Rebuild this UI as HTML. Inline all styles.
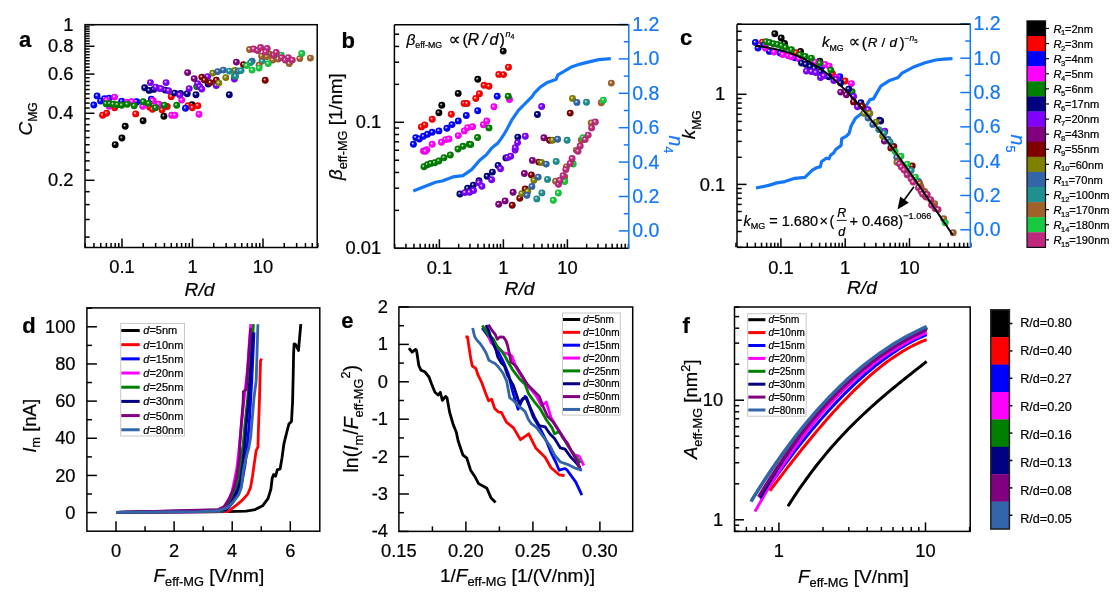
<!DOCTYPE html><html><head><meta charset="utf-8"><title>figure</title><style>html,body{margin:0;padding:0;background:#fff;width:1117px;height:597px;overflow:hidden}text{stroke:currentColor;stroke-width:0.22px}svg{display:block}</style></head><body><svg width="1117" height="597" viewBox="0 0 1117 597" font-family='"Liberation Sans", "DejaVu Sans", Arial, sans-serif'><defs><radialGradient id="g_k" cx="0.5" cy="0.5" r="0.5" fx="0.37" fy="0.35"><stop offset="0" stop-color="#f4f4f4"/><stop offset="0.16" stop-color="#9e9e9e"/><stop offset="0.44" stop-color="#000000"/><stop offset="0.88" stop-color="#000000"/><stop offset="1" stop-color="#000000"/></radialGradient><radialGradient id="g_r" cx="0.5" cy="0.5" r="0.5" fx="0.37" fy="0.35"><stop offset="0" stop-color="#f4f4f4"/><stop offset="0.16" stop-color="#ff9e9e"/><stop offset="0.44" stop-color="#ff0000"/><stop offset="0.88" stop-color="#f20000"/><stop offset="1" stop-color="#cc0000"/></radialGradient><radialGradient id="g_b" cx="0.5" cy="0.5" r="0.5" fx="0.37" fy="0.35"><stop offset="0" stop-color="#f4f4f4"/><stop offset="0.16" stop-color="#9e9eff"/><stop offset="0.44" stop-color="#0000ff"/><stop offset="0.88" stop-color="#0000f2"/><stop offset="1" stop-color="#0000cc"/></radialGradient><radialGradient id="g_m" cx="0.5" cy="0.5" r="0.5" fx="0.37" fy="0.35"><stop offset="0" stop-color="#f4f4f4"/><stop offset="0.16" stop-color="#ff9eff"/><stop offset="0.44" stop-color="#ff00ff"/><stop offset="0.88" stop-color="#f200f2"/><stop offset="1" stop-color="#cc00cc"/></radialGradient><radialGradient id="g_g" cx="0.5" cy="0.5" r="0.5" fx="0.37" fy="0.35"><stop offset="0" stop-color="#f4f4f4"/><stop offset="0.16" stop-color="#9ece9e"/><stop offset="0.44" stop-color="#008000"/><stop offset="0.88" stop-color="#007900"/><stop offset="1" stop-color="#006600"/></radialGradient><radialGradient id="g_n" cx="0.5" cy="0.5" r="0.5" fx="0.37" fy="0.35"><stop offset="0" stop-color="#f4f4f4"/><stop offset="0.16" stop-color="#9e9ece"/><stop offset="0.44" stop-color="#000080"/><stop offset="0.88" stop-color="#000079"/><stop offset="1" stop-color="#000066"/></radialGradient><radialGradient id="g_v" cx="0.5" cy="0.5" r="0.5" fx="0.37" fy="0.35"><stop offset="0" stop-color="#f4f4f4"/><stop offset="0.16" stop-color="#ce9eff"/><stop offset="0.44" stop-color="#8000ff"/><stop offset="0.88" stop-color="#7900f2"/><stop offset="1" stop-color="#6600cc"/></radialGradient><radialGradient id="g_p" cx="0.5" cy="0.5" r="0.5" fx="0.37" fy="0.35"><stop offset="0" stop-color="#f4f4f4"/><stop offset="0.16" stop-color="#ce9ece"/><stop offset="0.44" stop-color="#800080"/><stop offset="0.88" stop-color="#790079"/><stop offset="1" stop-color="#660066"/></radialGradient><radialGradient id="g_w" cx="0.5" cy="0.5" r="0.5" fx="0.37" fy="0.35"><stop offset="0" stop-color="#f4f4f4"/><stop offset="0.16" stop-color="#ce9e9e"/><stop offset="0.44" stop-color="#800000"/><stop offset="0.88" stop-color="#790000"/><stop offset="1" stop-color="#660000"/></radialGradient><radialGradient id="g_o" cx="0.5" cy="0.5" r="0.5" fx="0.37" fy="0.35"><stop offset="0" stop-color="#f4f4f4"/><stop offset="0.16" stop-color="#cece9e"/><stop offset="0.44" stop-color="#808000"/><stop offset="0.88" stop-color="#797900"/><stop offset="1" stop-color="#666600"/></radialGradient><radialGradient id="g_s" cx="0.5" cy="0.5" r="0.5" fx="0.37" fy="0.35"><stop offset="0" stop-color="#f4f4f4"/><stop offset="0.16" stop-color="#b1c4dd"/><stop offset="0.44" stop-color="#3366a8"/><stop offset="0.88" stop-color="#30609f"/><stop offset="1" stop-color="#285186"/></radialGradient><radialGradient id="g_t" cx="0.5" cy="0.5" r="0.5" fx="0.37" fy="0.35"><stop offset="0" stop-color="#f4f4f4"/><stop offset="0.16" stop-color="#a9d4d4"/><stop offset="0.44" stop-color="#1e9090"/><stop offset="0.88" stop-color="#1c8888"/><stop offset="1" stop-color="#187373"/></radialGradient><radialGradient id="g_br" cx="0.5" cy="0.5" r="0.5" fx="0.37" fy="0.35"><stop offset="0" stop-color="#f4f4f4"/><stop offset="0.16" stop-color="#dac3ae"/><stop offset="0.44" stop-color="#a0622a"/><stop offset="0.88" stop-color="#985d27"/><stop offset="1" stop-color="#804e21"/></radialGradient><radialGradient id="g_lg" cx="0.5" cy="0.5" r="0.5" fx="0.37" fy="0.35"><stop offset="0" stop-color="#f4f4f4"/><stop offset="0.16" stop-color="#a7eab6"/><stop offset="0.44" stop-color="#18c840"/><stop offset="0.88" stop-color="#16be3c"/><stop offset="1" stop-color="#13a033"/></radialGradient><radialGradient id="g_pk" cx="0.5" cy="0.5" r="0.5" fx="0.37" fy="0.35"><stop offset="0" stop-color="#f4f4f4"/><stop offset="0.16" stop-color="#e7adcd"/><stop offset="0.44" stop-color="#c0287e"/><stop offset="0.88" stop-color="#b62677"/><stop offset="1" stop-color="#992064"/></radialGradient></defs><line x1="85.14" y1="247.5" x2="85.14" y2="243" stroke="#000" stroke-width="1.5"/>
<line x1="93.95" y1="247.5" x2="93.95" y2="243" stroke="#000" stroke-width="1.5"/>
<line x1="100.78" y1="247.5" x2="100.78" y2="243" stroke="#000" stroke-width="1.5"/>
<line x1="106.36" y1="247.5" x2="106.36" y2="243" stroke="#000" stroke-width="1.5"/>
<line x1="111.08" y1="247.5" x2="111.08" y2="243" stroke="#000" stroke-width="1.5"/>
<line x1="115.17" y1="247.5" x2="115.17" y2="243" stroke="#000" stroke-width="1.5"/>
<line x1="118.77" y1="247.5" x2="118.77" y2="243" stroke="#000" stroke-width="1.5"/>
<line x1="122" y1="247.5" x2="122" y2="238.5" stroke="#000" stroke-width="1.5"/>
<line x1="143.22" y1="247.5" x2="143.22" y2="243" stroke="#000" stroke-width="1.5"/>
<line x1="155.64" y1="247.5" x2="155.64" y2="243" stroke="#000" stroke-width="1.5"/>
<line x1="164.45" y1="247.5" x2="164.45" y2="243" stroke="#000" stroke-width="1.5"/>
<line x1="171.28" y1="247.5" x2="171.28" y2="243" stroke="#000" stroke-width="1.5"/>
<line x1="176.86" y1="247.5" x2="176.86" y2="243" stroke="#000" stroke-width="1.5"/>
<line x1="181.58" y1="247.5" x2="181.58" y2="243" stroke="#000" stroke-width="1.5"/>
<line x1="185.67" y1="247.5" x2="185.67" y2="243" stroke="#000" stroke-width="1.5"/>
<line x1="189.27" y1="247.5" x2="189.27" y2="243" stroke="#000" stroke-width="1.5"/>
<line x1="192.5" y1="247.5" x2="192.5" y2="238.5" stroke="#000" stroke-width="1.5"/>
<line x1="213.72" y1="247.5" x2="213.72" y2="243" stroke="#000" stroke-width="1.5"/>
<line x1="226.14" y1="247.5" x2="226.14" y2="243" stroke="#000" stroke-width="1.5"/>
<line x1="234.95" y1="247.5" x2="234.95" y2="243" stroke="#000" stroke-width="1.5"/>
<line x1="241.78" y1="247.5" x2="241.78" y2="243" stroke="#000" stroke-width="1.5"/>
<line x1="247.36" y1="247.5" x2="247.36" y2="243" stroke="#000" stroke-width="1.5"/>
<line x1="252.08" y1="247.5" x2="252.08" y2="243" stroke="#000" stroke-width="1.5"/>
<line x1="256.17" y1="247.5" x2="256.17" y2="243" stroke="#000" stroke-width="1.5"/>
<line x1="259.77" y1="247.5" x2="259.77" y2="243" stroke="#000" stroke-width="1.5"/>
<line x1="263" y1="247.5" x2="263" y2="238.5" stroke="#000" stroke-width="1.5"/>
<line x1="284.22" y1="247.5" x2="284.22" y2="243" stroke="#000" stroke-width="1.5"/>
<line x1="296.64" y1="247.5" x2="296.64" y2="243" stroke="#000" stroke-width="1.5"/>
<line x1="305.45" y1="247.5" x2="305.45" y2="243" stroke="#000" stroke-width="1.5"/>
<line x1="312.28" y1="247.5" x2="312.28" y2="243" stroke="#000" stroke-width="1.5"/>
<line x1="317.86" y1="247.5" x2="317.86" y2="243" stroke="#000" stroke-width="1.5"/>
<line x1="85" y1="237.11" x2="89.7" y2="237.11" stroke="#000" stroke-width="1.5"/>
<line x1="85" y1="219.49" x2="89.7" y2="219.49" stroke="#000" stroke-width="1.5"/>
<line x1="85" y1="204.59" x2="89.7" y2="204.59" stroke="#000" stroke-width="1.5"/>
<line x1="85" y1="191.68" x2="89.7" y2="191.68" stroke="#000" stroke-width="1.5"/>
<line x1="85" y1="180.29" x2="94.5" y2="180.29" stroke="#000" stroke-width="1.5"/>
<line x1="85" y1="170.11" x2="89.7" y2="170.11" stroke="#000" stroke-width="1.5"/>
<line x1="85" y1="160.89" x2="89.7" y2="160.89" stroke="#000" stroke-width="1.5"/>
<line x1="85" y1="152.48" x2="89.7" y2="152.48" stroke="#000" stroke-width="1.5"/>
<line x1="85" y1="144.74" x2="89.7" y2="144.74" stroke="#000" stroke-width="1.5"/>
<line x1="85" y1="137.58" x2="89.7" y2="137.58" stroke="#000" stroke-width="1.5"/>
<line x1="85" y1="130.91" x2="89.7" y2="130.91" stroke="#000" stroke-width="1.5"/>
<line x1="85" y1="124.67" x2="89.7" y2="124.67" stroke="#000" stroke-width="1.5"/>
<line x1="85" y1="118.81" x2="89.7" y2="118.81" stroke="#000" stroke-width="1.5"/>
<line x1="85" y1="113.28" x2="94.5" y2="113.28" stroke="#000" stroke-width="1.5"/>
<line x1="85" y1="108.05" x2="89.7" y2="108.05" stroke="#000" stroke-width="1.5"/>
<line x1="85" y1="103.1" x2="89.7" y2="103.1" stroke="#000" stroke-width="1.5"/>
<line x1="85" y1="98.38" x2="89.7" y2="98.38" stroke="#000" stroke-width="1.5"/>
<line x1="85" y1="93.88" x2="89.7" y2="93.88" stroke="#000" stroke-width="1.5"/>
<line x1="85" y1="89.58" x2="89.7" y2="89.58" stroke="#000" stroke-width="1.5"/>
<line x1="85" y1="85.47" x2="89.7" y2="85.47" stroke="#000" stroke-width="1.5"/>
<line x1="85" y1="81.52" x2="89.7" y2="81.52" stroke="#000" stroke-width="1.5"/>
<line x1="85" y1="77.73" x2="89.7" y2="77.73" stroke="#000" stroke-width="1.5"/>
<line x1="85" y1="74.08" x2="94.5" y2="74.08" stroke="#000" stroke-width="1.5"/>
<line x1="85" y1="70.57" x2="89.7" y2="70.57" stroke="#000" stroke-width="1.5"/>
<line x1="85" y1="67.18" x2="89.7" y2="67.18" stroke="#000" stroke-width="1.5"/>
<line x1="85" y1="63.9" x2="89.7" y2="63.9" stroke="#000" stroke-width="1.5"/>
<line x1="85" y1="60.73" x2="89.7" y2="60.73" stroke="#000" stroke-width="1.5"/>
<line x1="85" y1="57.66" x2="89.7" y2="57.66" stroke="#000" stroke-width="1.5"/>
<line x1="85" y1="54.68" x2="89.7" y2="54.68" stroke="#000" stroke-width="1.5"/>
<line x1="85" y1="51.8" x2="89.7" y2="51.8" stroke="#000" stroke-width="1.5"/>
<line x1="85" y1="49" x2="89.7" y2="49" stroke="#000" stroke-width="1.5"/>
<line x1="85" y1="46.27" x2="94.5" y2="46.27" stroke="#000" stroke-width="1.5"/>
<line x1="85" y1="43.62" x2="89.7" y2="43.62" stroke="#000" stroke-width="1.5"/>
<line x1="85" y1="41.05" x2="89.7" y2="41.05" stroke="#000" stroke-width="1.5"/>
<line x1="85" y1="38.53" x2="89.7" y2="38.53" stroke="#000" stroke-width="1.5"/>
<line x1="85" y1="36.09" x2="89.7" y2="36.09" stroke="#000" stroke-width="1.5"/>
<line x1="85" y1="33.7" x2="89.7" y2="33.7" stroke="#000" stroke-width="1.5"/>
<line x1="85" y1="31.37" x2="89.7" y2="31.37" stroke="#000" stroke-width="1.5"/>
<line x1="85" y1="29.1" x2="89.7" y2="29.1" stroke="#000" stroke-width="1.5"/>
<line x1="85" y1="26.87" x2="89.7" y2="26.87" stroke="#000" stroke-width="1.5"/>
<line x1="85" y1="24.7" x2="94.5" y2="24.7" stroke="#000" stroke-width="1.5"/>
<rect x="85" y="24.7" width="232.2" height="222.8" fill="none" stroke="#000" stroke-width="1.5"/>
<text x="73.5" y="30.85" font-size="18.3" fill="#000" color="#000" text-anchor="end">1</text>
<text x="73.5" y="52.42" font-size="18.3" fill="#000" color="#000" text-anchor="end">0.8</text>
<text x="73.5" y="80.23" font-size="18.3" fill="#000" color="#000" text-anchor="end">0.6</text>
<text x="73.5" y="119.43" font-size="18.3" fill="#000" color="#000" text-anchor="end">0.4</text>
<text x="73.5" y="186.44" font-size="18.3" fill="#000" color="#000" text-anchor="end">0.2</text>
<text x="122" y="273" font-size="18.3" fill="#000" color="#000" text-anchor="middle">0.1</text>
<text x="192.5" y="273" font-size="18.3" fill="#000" color="#000" text-anchor="middle">1</text>
<text x="263" y="273" font-size="18.3" fill="#000" color="#000" text-anchor="middle">10</text>
<text x="184.6" y="295.9" font-size="19.2" fill="#000" color="#000" font-style="italic">R/d</text>
<text x="32.2" y="135.5" font-size="19" fill="#000" color="#000" font-style="italic" transform="rotate(-90 32.2 135.5)">C<tspan font-size="12.2" font-style="normal" dy="5.2">MG</tspan></text>
<text x="18.9" y="46.8" font-size="22" fill="#000" color="#000" font-weight="bold">a</text>
<line x1="394.67" y1="248.3" x2="394.67" y2="243.8" stroke="#000" stroke-width="1.5"/>
<line x1="405.94" y1="248.3" x2="405.94" y2="243.8" stroke="#000" stroke-width="1.5"/>
<line x1="413.93" y1="248.3" x2="413.93" y2="243.8" stroke="#000" stroke-width="1.5"/>
<line x1="420.13" y1="248.3" x2="420.13" y2="243.8" stroke="#000" stroke-width="1.5"/>
<line x1="425.2" y1="248.3" x2="425.2" y2="243.8" stroke="#000" stroke-width="1.5"/>
<line x1="429.49" y1="248.3" x2="429.49" y2="243.8" stroke="#000" stroke-width="1.5"/>
<line x1="433.2" y1="248.3" x2="433.2" y2="243.8" stroke="#000" stroke-width="1.5"/>
<line x1="436.47" y1="248.3" x2="436.47" y2="243.8" stroke="#000" stroke-width="1.5"/>
<line x1="439.4" y1="248.3" x2="439.4" y2="239.3" stroke="#000" stroke-width="1.5"/>
<line x1="458.67" y1="248.3" x2="458.67" y2="243.8" stroke="#000" stroke-width="1.5"/>
<line x1="469.94" y1="248.3" x2="469.94" y2="243.8" stroke="#000" stroke-width="1.5"/>
<line x1="477.93" y1="248.3" x2="477.93" y2="243.8" stroke="#000" stroke-width="1.5"/>
<line x1="484.13" y1="248.3" x2="484.13" y2="243.8" stroke="#000" stroke-width="1.5"/>
<line x1="489.2" y1="248.3" x2="489.2" y2="243.8" stroke="#000" stroke-width="1.5"/>
<line x1="493.49" y1="248.3" x2="493.49" y2="243.8" stroke="#000" stroke-width="1.5"/>
<line x1="497.2" y1="248.3" x2="497.2" y2="243.8" stroke="#000" stroke-width="1.5"/>
<line x1="500.47" y1="248.3" x2="500.47" y2="243.8" stroke="#000" stroke-width="1.5"/>
<line x1="503.4" y1="248.3" x2="503.4" y2="239.3" stroke="#000" stroke-width="1.5"/>
<line x1="522.67" y1="248.3" x2="522.67" y2="243.8" stroke="#000" stroke-width="1.5"/>
<line x1="533.94" y1="248.3" x2="533.94" y2="243.8" stroke="#000" stroke-width="1.5"/>
<line x1="541.93" y1="248.3" x2="541.93" y2="243.8" stroke="#000" stroke-width="1.5"/>
<line x1="548.13" y1="248.3" x2="548.13" y2="243.8" stroke="#000" stroke-width="1.5"/>
<line x1="553.2" y1="248.3" x2="553.2" y2="243.8" stroke="#000" stroke-width="1.5"/>
<line x1="557.49" y1="248.3" x2="557.49" y2="243.8" stroke="#000" stroke-width="1.5"/>
<line x1="561.2" y1="248.3" x2="561.2" y2="243.8" stroke="#000" stroke-width="1.5"/>
<line x1="564.47" y1="248.3" x2="564.47" y2="243.8" stroke="#000" stroke-width="1.5"/>
<line x1="567.4" y1="248.3" x2="567.4" y2="239.3" stroke="#000" stroke-width="1.5"/>
<line x1="586.67" y1="248.3" x2="586.67" y2="243.8" stroke="#000" stroke-width="1.5"/>
<line x1="597.94" y1="248.3" x2="597.94" y2="243.8" stroke="#000" stroke-width="1.5"/>
<line x1="605.93" y1="248.3" x2="605.93" y2="243.8" stroke="#000" stroke-width="1.5"/>
<line x1="612.13" y1="248.3" x2="612.13" y2="243.8" stroke="#000" stroke-width="1.5"/>
<line x1="617.2" y1="248.3" x2="617.2" y2="243.8" stroke="#000" stroke-width="1.5"/>
<line x1="621.49" y1="248.3" x2="621.49" y2="243.8" stroke="#000" stroke-width="1.5"/>
<line x1="625.2" y1="248.3" x2="625.2" y2="243.8" stroke="#000" stroke-width="1.5"/>
<line x1="628.47" y1="248.3" x2="628.47" y2="243.8" stroke="#000" stroke-width="1.5"/>
<line x1="394.4" y1="248.3" x2="403.9" y2="248.3" stroke="#000" stroke-width="1.5"/>
<line x1="394.4" y1="210.37" x2="399.1" y2="210.37" stroke="#000" stroke-width="1.5"/>
<line x1="394.4" y1="188.18" x2="399.1" y2="188.18" stroke="#000" stroke-width="1.5"/>
<line x1="394.4" y1="172.44" x2="399.1" y2="172.44" stroke="#000" stroke-width="1.5"/>
<line x1="394.4" y1="160.23" x2="399.1" y2="160.23" stroke="#000" stroke-width="1.5"/>
<line x1="394.4" y1="150.25" x2="399.1" y2="150.25" stroke="#000" stroke-width="1.5"/>
<line x1="394.4" y1="141.82" x2="399.1" y2="141.82" stroke="#000" stroke-width="1.5"/>
<line x1="394.4" y1="134.51" x2="399.1" y2="134.51" stroke="#000" stroke-width="1.5"/>
<line x1="394.4" y1="128.07" x2="399.1" y2="128.07" stroke="#000" stroke-width="1.5"/>
<line x1="394.4" y1="122.3" x2="403.9" y2="122.3" stroke="#000" stroke-width="1.5"/>
<line x1="394.4" y1="84.37" x2="399.1" y2="84.37" stroke="#000" stroke-width="1.5"/>
<line x1="394.4" y1="62.18" x2="399.1" y2="62.18" stroke="#000" stroke-width="1.5"/>
<line x1="394.4" y1="46.44" x2="399.1" y2="46.44" stroke="#000" stroke-width="1.5"/>
<line x1="394.4" y1="34.23" x2="399.1" y2="34.23" stroke="#000" stroke-width="1.5"/>
<line x1="628.8" y1="230.9" x2="618.8" y2="230.9" stroke="#1477fa" stroke-width="1.5"/>
<line x1="628.8" y1="213.7" x2="623.8" y2="213.7" stroke="#1477fa" stroke-width="1.5"/>
<line x1="628.8" y1="196.5" x2="618.8" y2="196.5" stroke="#1477fa" stroke-width="1.5"/>
<line x1="628.8" y1="179.3" x2="623.8" y2="179.3" stroke="#1477fa" stroke-width="1.5"/>
<line x1="628.8" y1="162.1" x2="618.8" y2="162.1" stroke="#1477fa" stroke-width="1.5"/>
<line x1="628.8" y1="144.9" x2="623.8" y2="144.9" stroke="#1477fa" stroke-width="1.5"/>
<line x1="628.8" y1="127.7" x2="618.8" y2="127.7" stroke="#1477fa" stroke-width="1.5"/>
<line x1="628.8" y1="110.5" x2="623.8" y2="110.5" stroke="#1477fa" stroke-width="1.5"/>
<line x1="628.8" y1="93.3" x2="618.8" y2="93.3" stroke="#1477fa" stroke-width="1.5"/>
<line x1="628.8" y1="76.1" x2="623.8" y2="76.1" stroke="#1477fa" stroke-width="1.5"/>
<line x1="628.8" y1="58.9" x2="618.8" y2="58.9" stroke="#1477fa" stroke-width="1.5"/>
<line x1="628.8" y1="41.7" x2="623.8" y2="41.7" stroke="#1477fa" stroke-width="1.5"/>
<line x1="628.8" y1="24.5" x2="618.8" y2="24.5" stroke="#1477fa" stroke-width="1.5"/>
<line x1="394.4" y1="24.7" x2="628.8" y2="24.7" stroke="#000" stroke-width="1.5"/>
<line x1="394.4" y1="24.7" x2="394.4" y2="248.3" stroke="#000" stroke-width="1.5"/>
<line x1="394.4" y1="248.3" x2="628.8" y2="248.3" stroke="#000" stroke-width="1.5"/>
<line x1="628.8" y1="24" x2="628.8" y2="249" stroke="#1477fa" stroke-width="1.5"/>
<text x="381.2" y="128.45" font-size="18.3" fill="#000" color="#000" text-anchor="end">0.1</text>
<text x="381.2" y="254.45" font-size="18.3" fill="#000" color="#000" text-anchor="end">0.01</text>
<text x="439.4" y="273.5" font-size="18.3" fill="#000" color="#000" text-anchor="middle">0.1</text>
<text x="503.4" y="273.5" font-size="18.3" fill="#000" color="#000" text-anchor="middle">1</text>
<text x="567.4" y="273.5" font-size="18.3" fill="#000" color="#000" text-anchor="middle">10</text>
<text x="632.2" y="237.4" font-size="19.5" fill="#1477fa" color="#1477fa">0.0</text>
<text x="632.2" y="203" font-size="19.5" fill="#1477fa" color="#1477fa">0.2</text>
<text x="632.2" y="168.6" font-size="19.5" fill="#1477fa" color="#1477fa">0.4</text>
<text x="632.2" y="134.2" font-size="19.5" fill="#1477fa" color="#1477fa">0.6</text>
<text x="632.2" y="99.8" font-size="19.5" fill="#1477fa" color="#1477fa">0.8</text>
<text x="632.2" y="65.4" font-size="19.5" fill="#1477fa" color="#1477fa">1.0</text>
<text x="632.2" y="31" font-size="19.5" fill="#1477fa" color="#1477fa">1.2</text>
<text x="504.6" y="295.3" font-size="19.2" fill="#000" color="#000" font-style="italic">R/d</text>
<text x="342.2" y="180" font-size="18.7" fill="#000" color="#000" transform="rotate(-90 342.2 180)"><tspan font-style="italic">β</tspan><tspan font-size="12.8" dy="5">eff-MG</tspan><tspan dy="-5"> [1/nm]</tspan></text>
<text x="668.8" y="135.5" font-size="19.5" fill="#1477fa" color="#1477fa" transform="rotate(90 668.8 135.5)"><tspan font-style="italic">n</tspan><tspan font-size="12.6" dy="5">4</tspan></text>
<text x="341.5" y="47.8" font-size="22" fill="#000" color="#000" font-weight="bold">b</text>
<line x1="735.96" y1="247.2" x2="735.96" y2="242.7" stroke="#000" stroke-width="1.5"/>
<line x1="747.28" y1="247.2" x2="747.28" y2="242.7" stroke="#000" stroke-width="1.5"/>
<line x1="755.31" y1="247.2" x2="755.31" y2="242.7" stroke="#000" stroke-width="1.5"/>
<line x1="761.54" y1="247.2" x2="761.54" y2="242.7" stroke="#000" stroke-width="1.5"/>
<line x1="766.64" y1="247.2" x2="766.64" y2="242.7" stroke="#000" stroke-width="1.5"/>
<line x1="770.94" y1="247.2" x2="770.94" y2="242.7" stroke="#000" stroke-width="1.5"/>
<line x1="774.67" y1="247.2" x2="774.67" y2="242.7" stroke="#000" stroke-width="1.5"/>
<line x1="777.96" y1="247.2" x2="777.96" y2="242.7" stroke="#000" stroke-width="1.5"/>
<line x1="780.9" y1="247.2" x2="780.9" y2="238.2" stroke="#000" stroke-width="1.5"/>
<line x1="800.26" y1="247.2" x2="800.26" y2="242.7" stroke="#000" stroke-width="1.5"/>
<line x1="811.58" y1="247.2" x2="811.58" y2="242.7" stroke="#000" stroke-width="1.5"/>
<line x1="819.61" y1="247.2" x2="819.61" y2="242.7" stroke="#000" stroke-width="1.5"/>
<line x1="825.84" y1="247.2" x2="825.84" y2="242.7" stroke="#000" stroke-width="1.5"/>
<line x1="830.94" y1="247.2" x2="830.94" y2="242.7" stroke="#000" stroke-width="1.5"/>
<line x1="835.24" y1="247.2" x2="835.24" y2="242.7" stroke="#000" stroke-width="1.5"/>
<line x1="838.97" y1="247.2" x2="838.97" y2="242.7" stroke="#000" stroke-width="1.5"/>
<line x1="842.26" y1="247.2" x2="842.26" y2="242.7" stroke="#000" stroke-width="1.5"/>
<line x1="845.2" y1="247.2" x2="845.2" y2="238.2" stroke="#000" stroke-width="1.5"/>
<line x1="864.56" y1="247.2" x2="864.56" y2="242.7" stroke="#000" stroke-width="1.5"/>
<line x1="875.88" y1="247.2" x2="875.88" y2="242.7" stroke="#000" stroke-width="1.5"/>
<line x1="883.91" y1="247.2" x2="883.91" y2="242.7" stroke="#000" stroke-width="1.5"/>
<line x1="890.14" y1="247.2" x2="890.14" y2="242.7" stroke="#000" stroke-width="1.5"/>
<line x1="895.24" y1="247.2" x2="895.24" y2="242.7" stroke="#000" stroke-width="1.5"/>
<line x1="899.54" y1="247.2" x2="899.54" y2="242.7" stroke="#000" stroke-width="1.5"/>
<line x1="903.27" y1="247.2" x2="903.27" y2="242.7" stroke="#000" stroke-width="1.5"/>
<line x1="906.56" y1="247.2" x2="906.56" y2="242.7" stroke="#000" stroke-width="1.5"/>
<line x1="909.5" y1="247.2" x2="909.5" y2="238.2" stroke="#000" stroke-width="1.5"/>
<line x1="928.86" y1="247.2" x2="928.86" y2="242.7" stroke="#000" stroke-width="1.5"/>
<line x1="940.18" y1="247.2" x2="940.18" y2="242.7" stroke="#000" stroke-width="1.5"/>
<line x1="948.21" y1="247.2" x2="948.21" y2="242.7" stroke="#000" stroke-width="1.5"/>
<line x1="954.44" y1="247.2" x2="954.44" y2="242.7" stroke="#000" stroke-width="1.5"/>
<line x1="959.54" y1="247.2" x2="959.54" y2="242.7" stroke="#000" stroke-width="1.5"/>
<line x1="963.84" y1="247.2" x2="963.84" y2="242.7" stroke="#000" stroke-width="1.5"/>
<line x1="967.57" y1="247.2" x2="967.57" y2="242.7" stroke="#000" stroke-width="1.5"/>
<line x1="970.86" y1="247.2" x2="970.86" y2="242.7" stroke="#000" stroke-width="1.5"/>
<line x1="737" y1="247.38" x2="741.7" y2="247.38" stroke="#000" stroke-width="1.5"/>
<line x1="737" y1="231.51" x2="741.7" y2="231.51" stroke="#000" stroke-width="1.5"/>
<line x1="737" y1="220.25" x2="741.7" y2="220.25" stroke="#000" stroke-width="1.5"/>
<line x1="737" y1="211.52" x2="741.7" y2="211.52" stroke="#000" stroke-width="1.5"/>
<line x1="737" y1="204.39" x2="741.7" y2="204.39" stroke="#000" stroke-width="1.5"/>
<line x1="737" y1="198.36" x2="741.7" y2="198.36" stroke="#000" stroke-width="1.5"/>
<line x1="737" y1="193.13" x2="741.7" y2="193.13" stroke="#000" stroke-width="1.5"/>
<line x1="737" y1="188.52" x2="741.7" y2="188.52" stroke="#000" stroke-width="1.5"/>
<line x1="737" y1="184.4" x2="746.5" y2="184.4" stroke="#000" stroke-width="1.5"/>
<line x1="737" y1="157.28" x2="741.7" y2="157.28" stroke="#000" stroke-width="1.5"/>
<line x1="737" y1="141.41" x2="741.7" y2="141.41" stroke="#000" stroke-width="1.5"/>
<line x1="737" y1="130.15" x2="741.7" y2="130.15" stroke="#000" stroke-width="1.5"/>
<line x1="737" y1="121.42" x2="741.7" y2="121.42" stroke="#000" stroke-width="1.5"/>
<line x1="737" y1="114.29" x2="741.7" y2="114.29" stroke="#000" stroke-width="1.5"/>
<line x1="737" y1="108.26" x2="741.7" y2="108.26" stroke="#000" stroke-width="1.5"/>
<line x1="737" y1="103.03" x2="741.7" y2="103.03" stroke="#000" stroke-width="1.5"/>
<line x1="737" y1="98.42" x2="741.7" y2="98.42" stroke="#000" stroke-width="1.5"/>
<line x1="737" y1="94.3" x2="746.5" y2="94.3" stroke="#000" stroke-width="1.5"/>
<line x1="737" y1="67.18" x2="741.7" y2="67.18" stroke="#000" stroke-width="1.5"/>
<line x1="737" y1="51.31" x2="741.7" y2="51.31" stroke="#000" stroke-width="1.5"/>
<line x1="737" y1="40.05" x2="741.7" y2="40.05" stroke="#000" stroke-width="1.5"/>
<line x1="737" y1="31.32" x2="741.7" y2="31.32" stroke="#000" stroke-width="1.5"/>
<line x1="737" y1="24.19" x2="741.7" y2="24.19" stroke="#000" stroke-width="1.5"/>
<line x1="970.3" y1="229.8" x2="960.3" y2="229.8" stroke="#1477fa" stroke-width="1.5"/>
<line x1="970.3" y1="212.64" x2="965.3" y2="212.64" stroke="#1477fa" stroke-width="1.5"/>
<line x1="970.3" y1="195.48" x2="960.3" y2="195.48" stroke="#1477fa" stroke-width="1.5"/>
<line x1="970.3" y1="178.32" x2="965.3" y2="178.32" stroke="#1477fa" stroke-width="1.5"/>
<line x1="970.3" y1="161.16" x2="960.3" y2="161.16" stroke="#1477fa" stroke-width="1.5"/>
<line x1="970.3" y1="144" x2="965.3" y2="144" stroke="#1477fa" stroke-width="1.5"/>
<line x1="970.3" y1="126.84" x2="960.3" y2="126.84" stroke="#1477fa" stroke-width="1.5"/>
<line x1="970.3" y1="109.68" x2="965.3" y2="109.68" stroke="#1477fa" stroke-width="1.5"/>
<line x1="970.3" y1="92.52" x2="960.3" y2="92.52" stroke="#1477fa" stroke-width="1.5"/>
<line x1="970.3" y1="75.36" x2="965.3" y2="75.36" stroke="#1477fa" stroke-width="1.5"/>
<line x1="970.3" y1="58.2" x2="960.3" y2="58.2" stroke="#1477fa" stroke-width="1.5"/>
<line x1="970.3" y1="41.04" x2="965.3" y2="41.04" stroke="#1477fa" stroke-width="1.5"/>
<line x1="970.3" y1="23.88" x2="960.3" y2="23.88" stroke="#1477fa" stroke-width="1.5"/>
<line x1="737" y1="24.3" x2="970.3" y2="24.3" stroke="#000" stroke-width="1.5"/>
<line x1="737" y1="24.3" x2="737" y2="247.2" stroke="#000" stroke-width="1.5"/>
<line x1="737" y1="247.2" x2="970.3" y2="247.2" stroke="#000" stroke-width="1.5"/>
<line x1="970.3" y1="23.6" x2="970.3" y2="247.9" stroke="#1477fa" stroke-width="1.5"/>
<text x="725.2" y="100.45" font-size="18.3" fill="#000" color="#000" text-anchor="end">1</text>
<text x="725.2" y="190.55" font-size="18.3" fill="#000" color="#000" text-anchor="end">0.1</text>
<text x="780.9" y="273.5" font-size="18.3" fill="#000" color="#000" text-anchor="middle">0.1</text>
<text x="845.2" y="273.5" font-size="18.3" fill="#000" color="#000" text-anchor="middle">1</text>
<text x="909.5" y="273.5" font-size="18.3" fill="#000" color="#000" text-anchor="middle">10</text>
<text x="973.5" y="236.3" font-size="19.5" fill="#1477fa" color="#1477fa">0.0</text>
<text x="973.5" y="201.98" font-size="19.5" fill="#1477fa" color="#1477fa">0.2</text>
<text x="973.5" y="167.66" font-size="19.5" fill="#1477fa" color="#1477fa">0.4</text>
<text x="973.5" y="133.34" font-size="19.5" fill="#1477fa" color="#1477fa">0.6</text>
<text x="973.5" y="99.02" font-size="19.5" fill="#1477fa" color="#1477fa">0.8</text>
<text x="973.5" y="64.7" font-size="19.5" fill="#1477fa" color="#1477fa">1.0</text>
<text x="973.5" y="30.38" font-size="19.5" fill="#1477fa" color="#1477fa">1.2</text>
<text x="847" y="293.5" font-size="19.2" fill="#000" color="#000" font-style="italic">R/d</text>
<text x="695.5" y="139.3" font-size="19" fill="#000" color="#000" font-style="italic" transform="rotate(-90 695.5 139.3)">k<tspan font-size="12.2" font-style="normal" dy="5.2">MG</tspan></text>
<text x="1011.2" y="134.6" font-size="19.5" fill="#1477fa" color="#1477fa" transform="rotate(90 1011.2 134.6)"><tspan font-style="italic">n</tspan><tspan font-size="12.6" dy="5">5</tspan></text>
<text x="680" y="44.7" font-size="22" fill="#000" color="#000" font-weight="bold">c</text>
<rect x="1027" y="20.9" width="18.5" height="15.4" fill="#000000" stroke="none" stroke-width="1"/>
<rect x="1027" y="36" width="18.5" height="15.4" fill="#ff0000" stroke="none" stroke-width="1"/>
<rect x="1027" y="51.1" width="18.5" height="15.4" fill="#0000ff" stroke="none" stroke-width="1"/>
<rect x="1027" y="66.2" width="18.5" height="15.4" fill="#ff00ff" stroke="none" stroke-width="1"/>
<rect x="1027" y="81.3" width="18.5" height="15.4" fill="#008000" stroke="none" stroke-width="1"/>
<rect x="1027" y="96.4" width="18.5" height="15.4" fill="#000080" stroke="none" stroke-width="1"/>
<rect x="1027" y="111.5" width="18.5" height="15.4" fill="#8000ff" stroke="none" stroke-width="1"/>
<rect x="1027" y="126.6" width="18.5" height="15.4" fill="#800080" stroke="none" stroke-width="1"/>
<rect x="1027" y="141.7" width="18.5" height="15.4" fill="#800000" stroke="none" stroke-width="1"/>
<rect x="1027" y="156.8" width="18.5" height="15.4" fill="#808000" stroke="none" stroke-width="1"/>
<rect x="1027" y="171.9" width="18.5" height="15.4" fill="#3366a8" stroke="none" stroke-width="1"/>
<rect x="1027" y="187" width="18.5" height="15.4" fill="#1e9090" stroke="none" stroke-width="1"/>
<rect x="1027" y="202.1" width="18.5" height="15.4" fill="#a0622a" stroke="none" stroke-width="1"/>
<rect x="1027" y="217.2" width="18.5" height="15.4" fill="#18c840" stroke="none" stroke-width="1"/>
<rect x="1027" y="232.3" width="18.5" height="15.4" fill="#c0287e" stroke="none" stroke-width="1"/>
<rect x="1027" y="20.9" width="18.5" height="226.5" fill="none" stroke="#111" stroke-width="1.2"/>
<line x1="1045.5" y1="28.45" x2="1049" y2="28.45" stroke="#000" stroke-width="1.2"/>
<text x="1053.6" y="32.65" font-size="11.1" fill="#000" color="#000" stroke="#000" stroke-width="0.25"><tspan font-style="italic">R</tspan><tspan font-size="7.6" dy="2.8" dx="-0.6">1</tspan><tspan dy="-2.8" dx="-0.3">=2nm</tspan></text>
<line x1="1045.5" y1="43.55" x2="1049" y2="43.55" stroke="#000" stroke-width="1.2"/>
<text x="1053.6" y="47.75" font-size="11.1" fill="#000" color="#000" stroke="#000" stroke-width="0.25"><tspan font-style="italic">R</tspan><tspan font-size="7.6" dy="2.8" dx="-0.6">2</tspan><tspan dy="-2.8" dx="-0.3">=3nm</tspan></text>
<line x1="1045.5" y1="58.65" x2="1049" y2="58.65" stroke="#000" stroke-width="1.2"/>
<text x="1053.6" y="62.85" font-size="11.1" fill="#000" color="#000" stroke="#000" stroke-width="0.25"><tspan font-style="italic">R</tspan><tspan font-size="7.6" dy="2.8" dx="-0.6">3</tspan><tspan dy="-2.8" dx="-0.3">=4nm</tspan></text>
<line x1="1045.5" y1="73.75" x2="1049" y2="73.75" stroke="#000" stroke-width="1.2"/>
<text x="1053.6" y="77.95" font-size="11.1" fill="#000" color="#000" stroke="#000" stroke-width="0.25"><tspan font-style="italic">R</tspan><tspan font-size="7.6" dy="2.8" dx="-0.6">4</tspan><tspan dy="-2.8" dx="-0.3">=5nm</tspan></text>
<line x1="1045.5" y1="88.85" x2="1049" y2="88.85" stroke="#000" stroke-width="1.2"/>
<text x="1053.6" y="93.05" font-size="11.1" fill="#000" color="#000" stroke="#000" stroke-width="0.25"><tspan font-style="italic">R</tspan><tspan font-size="7.6" dy="2.8" dx="-0.6">5</tspan><tspan dy="-2.8" dx="-0.3">=6nm</tspan></text>
<line x1="1045.5" y1="103.95" x2="1049" y2="103.95" stroke="#000" stroke-width="1.2"/>
<text x="1053.6" y="108.15" font-size="11.1" fill="#000" color="#000" stroke="#000" stroke-width="0.25"><tspan font-style="italic">R</tspan><tspan font-size="7.6" dy="2.8" dx="-0.6">6</tspan><tspan dy="-2.8" dx="-0.3">=17nm</tspan></text>
<line x1="1045.5" y1="119.05" x2="1049" y2="119.05" stroke="#000" stroke-width="1.2"/>
<text x="1053.6" y="123.25" font-size="11.1" fill="#000" color="#000" stroke="#000" stroke-width="0.25"><tspan font-style="italic">R</tspan><tspan font-size="7.6" dy="2.8" dx="-0.6">7</tspan><tspan dy="-2.8" dx="-0.3">=20nm</tspan></text>
<line x1="1045.5" y1="134.15" x2="1049" y2="134.15" stroke="#000" stroke-width="1.2"/>
<text x="1053.6" y="138.35" font-size="11.1" fill="#000" color="#000" stroke="#000" stroke-width="0.25"><tspan font-style="italic">R</tspan><tspan font-size="7.6" dy="2.8" dx="-0.6">8</tspan><tspan dy="-2.8" dx="-0.3">=43nm</tspan></text>
<line x1="1045.5" y1="149.25" x2="1049" y2="149.25" stroke="#000" stroke-width="1.2"/>
<text x="1053.6" y="153.45" font-size="11.1" fill="#000" color="#000" stroke="#000" stroke-width="0.25"><tspan font-style="italic">R</tspan><tspan font-size="7.6" dy="2.8" dx="-0.6">9</tspan><tspan dy="-2.8" dx="-0.3">=55nm</tspan></text>
<line x1="1045.5" y1="164.35" x2="1049" y2="164.35" stroke="#000" stroke-width="1.2"/>
<text x="1053.6" y="168.55" font-size="11.1" fill="#000" color="#000" stroke="#000" stroke-width="0.25"><tspan font-style="italic">R</tspan><tspan font-size="7.6" dy="2.8" dx="-0.6">10</tspan><tspan dy="-2.8" dx="-0.3">=60nm</tspan></text>
<line x1="1045.5" y1="179.45" x2="1049" y2="179.45" stroke="#000" stroke-width="1.2"/>
<text x="1053.6" y="183.65" font-size="11.1" fill="#000" color="#000" stroke="#000" stroke-width="0.25"><tspan font-style="italic">R</tspan><tspan font-size="7.6" dy="2.8" dx="-0.6">11</tspan><tspan dy="-2.8" dx="-0.3">=70nm</tspan></text>
<line x1="1045.5" y1="194.55" x2="1049" y2="194.55" stroke="#000" stroke-width="1.2"/>
<text x="1053.6" y="198.75" font-size="11.1" fill="#000" color="#000" stroke="#000" stroke-width="0.25"><tspan font-style="italic">R</tspan><tspan font-size="7.6" dy="2.8" dx="-0.6">12</tspan><tspan dy="-2.8" dx="-0.3">=100nm</tspan></text>
<line x1="1045.5" y1="209.65" x2="1049" y2="209.65" stroke="#000" stroke-width="1.2"/>
<text x="1053.6" y="213.85" font-size="11.1" fill="#000" color="#000" stroke="#000" stroke-width="0.25"><tspan font-style="italic">R</tspan><tspan font-size="7.6" dy="2.8" dx="-0.6">13</tspan><tspan dy="-2.8" dx="-0.3">=170nm</tspan></text>
<line x1="1045.5" y1="224.75" x2="1049" y2="224.75" stroke="#000" stroke-width="1.2"/>
<text x="1053.6" y="228.95" font-size="11.1" fill="#000" color="#000" stroke="#000" stroke-width="0.25"><tspan font-style="italic">R</tspan><tspan font-size="7.6" dy="2.8" dx="-0.6">14</tspan><tspan dy="-2.8" dx="-0.3">=180nm</tspan></text>
<line x1="1045.5" y1="239.85" x2="1049" y2="239.85" stroke="#000" stroke-width="1.2"/>
<text x="1053.6" y="244.05" font-size="11.1" fill="#000" color="#000" stroke="#000" stroke-width="0.25"><tspan font-style="italic">R</tspan><tspan font-size="7.6" dy="2.8" dx="-0.6">15</tspan><tspan dy="-2.8" dx="-0.3">=190nm</tspan></text>
<line x1="116" y1="531.2" x2="116" y2="521.2" stroke="#000" stroke-width="1.5"/>
<line x1="145.05" y1="531.2" x2="145.05" y2="526.2" stroke="#000" stroke-width="1.5"/>
<line x1="174.1" y1="531.2" x2="174.1" y2="521.2" stroke="#000" stroke-width="1.5"/>
<line x1="203.15" y1="531.2" x2="203.15" y2="526.2" stroke="#000" stroke-width="1.5"/>
<line x1="232.2" y1="531.2" x2="232.2" y2="521.2" stroke="#000" stroke-width="1.5"/>
<line x1="261.25" y1="531.2" x2="261.25" y2="526.2" stroke="#000" stroke-width="1.5"/>
<line x1="290.3" y1="531.2" x2="290.3" y2="521.2" stroke="#000" stroke-width="1.5"/>
<line x1="86.9" y1="512.6" x2="96.9" y2="512.6" stroke="#000" stroke-width="1.5"/>
<line x1="86.9" y1="494.02" x2="91.9" y2="494.02" stroke="#000" stroke-width="1.5"/>
<line x1="86.9" y1="475.44" x2="96.9" y2="475.44" stroke="#000" stroke-width="1.5"/>
<line x1="86.9" y1="456.86" x2="91.9" y2="456.86" stroke="#000" stroke-width="1.5"/>
<line x1="86.9" y1="438.28" x2="96.9" y2="438.28" stroke="#000" stroke-width="1.5"/>
<line x1="86.9" y1="419.7" x2="91.9" y2="419.7" stroke="#000" stroke-width="1.5"/>
<line x1="86.9" y1="401.12" x2="96.9" y2="401.12" stroke="#000" stroke-width="1.5"/>
<line x1="86.9" y1="382.54" x2="91.9" y2="382.54" stroke="#000" stroke-width="1.5"/>
<line x1="86.9" y1="363.96" x2="96.9" y2="363.96" stroke="#000" stroke-width="1.5"/>
<line x1="86.9" y1="345.38" x2="91.9" y2="345.38" stroke="#000" stroke-width="1.5"/>
<line x1="86.9" y1="326.8" x2="96.9" y2="326.8" stroke="#000" stroke-width="1.5"/>
<line x1="86.9" y1="308.22" x2="91.9" y2="308.22" stroke="#000" stroke-width="1.5"/>
<rect x="86.9" y="307.9" width="232.9" height="223.3" fill="none" stroke="#000" stroke-width="1.5"/>
<text x="75.5" y="518.75" font-size="18.3" fill="#000" color="#000" text-anchor="end">0</text>
<text x="75.5" y="481.59" font-size="18.3" fill="#000" color="#000" text-anchor="end">20</text>
<text x="75.5" y="444.43" font-size="18.3" fill="#000" color="#000" text-anchor="end">40</text>
<text x="75.5" y="407.27" font-size="18.3" fill="#000" color="#000" text-anchor="end">60</text>
<text x="75.5" y="370.11" font-size="18.3" fill="#000" color="#000" text-anchor="end">80</text>
<text x="75.5" y="332.95" font-size="18.3" fill="#000" color="#000" text-anchor="end">100</text>
<text x="116" y="557" font-size="18.3" fill="#000" color="#000" text-anchor="middle">0</text>
<text x="174.1" y="557" font-size="18.3" fill="#000" color="#000" text-anchor="middle">2</text>
<text x="232.2" y="557" font-size="18.3" fill="#000" color="#000" text-anchor="middle">4</text>
<text x="290.3" y="557" font-size="18.3" fill="#000" color="#000" text-anchor="middle">6</text>
<text x="153.5" y="582.2" font-size="19" fill="#000" color="#000"><tspan font-style="italic">F</tspan><tspan font-size="12.8" dy="4">eff-MG</tspan><tspan dy="-4"> [V/nm]</tspan></text>
<text x="36" y="452.8" font-size="18.5" fill="#000" color="#000" transform="rotate(-90 36 452.8)"><tspan font-style="italic">I</tspan><tspan font-size="12.8" dy="4.5">m</tspan><tspan dy="-4.5"> [nA]</tspan></text>
<text x="22.3" y="333" font-size="22" fill="#000" color="#000" font-weight="bold">d</text>
<line x1="432.4" y1="531.4" x2="432.4" y2="526.4" stroke="#000" stroke-width="1.5"/>
<line x1="465.9" y1="531.4" x2="465.9" y2="521.4" stroke="#000" stroke-width="1.5"/>
<line x1="499.4" y1="531.4" x2="499.4" y2="526.4" stroke="#000" stroke-width="1.5"/>
<line x1="532.9" y1="531.4" x2="532.9" y2="521.4" stroke="#000" stroke-width="1.5"/>
<line x1="566.4" y1="531.4" x2="566.4" y2="526.4" stroke="#000" stroke-width="1.5"/>
<line x1="599.9" y1="531.4" x2="599.9" y2="521.4" stroke="#000" stroke-width="1.5"/>
<line x1="398.9" y1="531.4" x2="408.9" y2="531.4" stroke="#000" stroke-width="1.5"/>
<line x1="398.9" y1="512.7" x2="403.9" y2="512.7" stroke="#000" stroke-width="1.5"/>
<line x1="398.9" y1="494" x2="408.9" y2="494" stroke="#000" stroke-width="1.5"/>
<line x1="398.9" y1="475.3" x2="403.9" y2="475.3" stroke="#000" stroke-width="1.5"/>
<line x1="398.9" y1="456.6" x2="408.9" y2="456.6" stroke="#000" stroke-width="1.5"/>
<line x1="398.9" y1="437.9" x2="403.9" y2="437.9" stroke="#000" stroke-width="1.5"/>
<line x1="398.9" y1="419.2" x2="408.9" y2="419.2" stroke="#000" stroke-width="1.5"/>
<line x1="398.9" y1="400.5" x2="403.9" y2="400.5" stroke="#000" stroke-width="1.5"/>
<line x1="398.9" y1="381.8" x2="408.9" y2="381.8" stroke="#000" stroke-width="1.5"/>
<line x1="398.9" y1="363.1" x2="403.9" y2="363.1" stroke="#000" stroke-width="1.5"/>
<line x1="398.9" y1="344.4" x2="408.9" y2="344.4" stroke="#000" stroke-width="1.5"/>
<line x1="398.9" y1="325.7" x2="403.9" y2="325.7" stroke="#000" stroke-width="1.5"/>
<line x1="398.9" y1="307" x2="408.9" y2="307" stroke="#000" stroke-width="1.5"/>
<rect x="398.9" y="307" width="233.8" height="224.4" fill="none" stroke="#000" stroke-width="1.5"/>
<text x="388" y="537.3" font-size="18.3" fill="#000" color="#000" text-anchor="end">-4</text>
<text x="388" y="499.9" font-size="18.3" fill="#000" color="#000" text-anchor="end">-3</text>
<text x="388" y="462.5" font-size="18.3" fill="#000" color="#000" text-anchor="end">-2</text>
<text x="388" y="425.1" font-size="18.3" fill="#000" color="#000" text-anchor="end">-1</text>
<text x="388" y="387.7" font-size="18.3" fill="#000" color="#000" text-anchor="end">0</text>
<text x="388" y="350.3" font-size="18.3" fill="#000" color="#000" text-anchor="end">1</text>
<text x="388" y="312.9" font-size="18.3" fill="#000" color="#000" text-anchor="end">2</text>
<text x="398.9" y="557" font-size="18.3" fill="#000" color="#000" text-anchor="middle">0.15</text>
<text x="465.9" y="557" font-size="18.3" fill="#000" color="#000" text-anchor="middle">0.20</text>
<text x="532.9" y="557" font-size="18.3" fill="#000" color="#000" text-anchor="middle">0.25</text>
<text x="599.9" y="557" font-size="18.3" fill="#000" color="#000" text-anchor="middle">0.30</text>
<text x="440" y="582.2" font-size="19" fill="#000" color="#000">1/<tspan font-style="italic">F</tspan><tspan font-size="12.8" dy="4">eff-MG</tspan><tspan dy="-4"> [1/(V/nm)]</tspan></text>
<text x="358" y="472.5" font-size="19.5" fill="#000" color="#000" transform="rotate(-90 358 472.5)">ln(<tspan font-style="italic">I</tspan><tspan font-size="12.8" dy="4.5">m</tspan><tspan dy="-4.5">/</tspan><tspan font-style="italic">F</tspan><tspan font-size="12.8" dy="4.5">eff-MG</tspan><tspan font-size="12.8" dy="-13">2</tspan><tspan dy="8.5">)</tspan></text>
<text x="341.2" y="328.4" font-size="22" fill="#000" color="#000" font-weight="bold">e</text>
<line x1="734.77" y1="531.4" x2="734.77" y2="526.9" stroke="#000" stroke-width="1.5"/>
<line x1="746.38" y1="531.4" x2="746.38" y2="526.9" stroke="#000" stroke-width="1.5"/>
<line x1="756.19" y1="531.4" x2="756.19" y2="526.9" stroke="#000" stroke-width="1.5"/>
<line x1="764.69" y1="531.4" x2="764.69" y2="526.9" stroke="#000" stroke-width="1.5"/>
<line x1="772.19" y1="531.4" x2="772.19" y2="526.9" stroke="#000" stroke-width="1.5"/>
<line x1="778.9" y1="531.4" x2="778.9" y2="522.4" stroke="#000" stroke-width="1.5"/>
<line x1="823.03" y1="531.4" x2="823.03" y2="526.9" stroke="#000" stroke-width="1.5"/>
<line x1="848.85" y1="531.4" x2="848.85" y2="526.9" stroke="#000" stroke-width="1.5"/>
<line x1="867.16" y1="531.4" x2="867.16" y2="526.9" stroke="#000" stroke-width="1.5"/>
<line x1="881.37" y1="531.4" x2="881.37" y2="526.9" stroke="#000" stroke-width="1.5"/>
<line x1="892.98" y1="531.4" x2="892.98" y2="526.9" stroke="#000" stroke-width="1.5"/>
<line x1="902.79" y1="531.4" x2="902.79" y2="526.9" stroke="#000" stroke-width="1.5"/>
<line x1="911.29" y1="531.4" x2="911.29" y2="526.9" stroke="#000" stroke-width="1.5"/>
<line x1="918.79" y1="531.4" x2="918.79" y2="526.9" stroke="#000" stroke-width="1.5"/>
<line x1="925.5" y1="531.4" x2="925.5" y2="522.4" stroke="#000" stroke-width="1.5"/>
<line x1="969.63" y1="531.4" x2="969.63" y2="526.9" stroke="#000" stroke-width="1.5"/>
<line x1="734.5" y1="531.39" x2="739.2" y2="531.39" stroke="#000" stroke-width="1.5"/>
<line x1="734.5" y1="525.27" x2="739.2" y2="525.27" stroke="#000" stroke-width="1.5"/>
<line x1="734.5" y1="519.8" x2="744" y2="519.8" stroke="#000" stroke-width="1.5"/>
<line x1="734.5" y1="483.8" x2="739.2" y2="483.8" stroke="#000" stroke-width="1.5"/>
<line x1="734.5" y1="462.74" x2="739.2" y2="462.74" stroke="#000" stroke-width="1.5"/>
<line x1="734.5" y1="447.79" x2="739.2" y2="447.79" stroke="#000" stroke-width="1.5"/>
<line x1="734.5" y1="436.2" x2="739.2" y2="436.2" stroke="#000" stroke-width="1.5"/>
<line x1="734.5" y1="426.73" x2="739.2" y2="426.73" stroke="#000" stroke-width="1.5"/>
<line x1="734.5" y1="418.73" x2="739.2" y2="418.73" stroke="#000" stroke-width="1.5"/>
<line x1="734.5" y1="411.79" x2="739.2" y2="411.79" stroke="#000" stroke-width="1.5"/>
<line x1="734.5" y1="405.67" x2="739.2" y2="405.67" stroke="#000" stroke-width="1.5"/>
<line x1="734.5" y1="400.2" x2="744" y2="400.2" stroke="#000" stroke-width="1.5"/>
<line x1="734.5" y1="364.2" x2="739.2" y2="364.2" stroke="#000" stroke-width="1.5"/>
<line x1="734.5" y1="343.14" x2="739.2" y2="343.14" stroke="#000" stroke-width="1.5"/>
<line x1="734.5" y1="328.19" x2="739.2" y2="328.19" stroke="#000" stroke-width="1.5"/>
<line x1="734.5" y1="316.6" x2="739.2" y2="316.6" stroke="#000" stroke-width="1.5"/>
<line x1="734.5" y1="307.13" x2="739.2" y2="307.13" stroke="#000" stroke-width="1.5"/>
<rect x="734.5" y="307" width="235.7" height="224.4" fill="none" stroke="#000" stroke-width="1.5"/>
<text x="723.2" y="525.95" font-size="18.3" fill="#000" color="#000" text-anchor="end">1</text>
<text x="723.2" y="406.35" font-size="18.3" fill="#000" color="#000" text-anchor="end">10</text>
<text x="778.9" y="557" font-size="18.3" fill="#000" color="#000" text-anchor="middle">1</text>
<text x="925.5" y="557" font-size="18.3" fill="#000" color="#000" text-anchor="middle">10</text>
<text x="798" y="583" font-size="19" fill="#000" color="#000"><tspan font-style="italic">F</tspan><tspan font-size="12.8" dy="4">eff-MG</tspan><tspan dy="-4"> [V/nm]</tspan></text>
<text x="697.2" y="459" font-size="18.5" fill="#000" color="#000" transform="rotate(-90 697.2 459)"><tspan font-style="italic">A</tspan><tspan font-size="12.8" dy="4.5">eff-MG</tspan><tspan dy="-4.5"> [nm</tspan><tspan font-size="12.8" dy="-7">2</tspan><tspan dy="7">]</tspan></text>
<text x="682.5" y="332.7" font-size="22" fill="#000" color="#000" font-weight="bold">f</text>
<rect x="990.8" y="309.8" width="18.6" height="27.7" fill="#000000" stroke="none" stroke-width="1"/>
<rect x="990.8" y="337.2" width="18.6" height="27.7" fill="#ff0000" stroke="none" stroke-width="1"/>
<rect x="990.8" y="364.6" width="18.6" height="27.7" fill="#0000ff" stroke="none" stroke-width="1"/>
<rect x="990.8" y="392" width="18.6" height="27.7" fill="#ff00ff" stroke="none" stroke-width="1"/>
<rect x="990.8" y="419.4" width="18.6" height="27.7" fill="#008000" stroke="none" stroke-width="1"/>
<rect x="990.8" y="446.8" width="18.6" height="27.7" fill="#000080" stroke="none" stroke-width="1"/>
<rect x="990.8" y="474.2" width="18.6" height="27.7" fill="#800080" stroke="none" stroke-width="1"/>
<rect x="990.8" y="501.6" width="18.6" height="27.7" fill="#3366a8" stroke="none" stroke-width="1"/>
<rect x="990.8" y="309.8" width="18.6" height="219.2" fill="none" stroke="#222" stroke-width="1.5"/>
<line x1="1009.4" y1="323.5" x2="1012.4" y2="323.5" stroke="#000" stroke-width="1.5"/>
<text x="1020.2" y="327.4" font-size="12.6" fill="#000" color="#000" stroke="#000" stroke-width="0.25">R/d=0.80</text>
<line x1="1009.4" y1="350.9" x2="1012.4" y2="350.9" stroke="#000" stroke-width="1.5"/>
<text x="1020.2" y="355.3" font-size="12.6" fill="#000" color="#000" stroke="#000" stroke-width="0.25">R/d=0.40</text>
<line x1="1009.4" y1="378.3" x2="1012.4" y2="378.3" stroke="#000" stroke-width="1.5"/>
<text x="1020.2" y="383.2" font-size="12.6" fill="#000" color="#000" stroke="#000" stroke-width="0.25">R/d=0.27</text>
<line x1="1009.4" y1="405.7" x2="1012.4" y2="405.7" stroke="#000" stroke-width="1.5"/>
<text x="1020.2" y="411.1" font-size="12.6" fill="#000" color="#000" stroke="#000" stroke-width="0.25">R/d=0.20</text>
<line x1="1009.4" y1="433.1" x2="1012.4" y2="433.1" stroke="#000" stroke-width="1.5"/>
<text x="1020.2" y="439" font-size="12.6" fill="#000" color="#000" stroke="#000" stroke-width="0.25">R/d=0.16</text>
<line x1="1009.4" y1="460.5" x2="1012.4" y2="460.5" stroke="#000" stroke-width="1.5"/>
<text x="1020.2" y="466.9" font-size="12.6" fill="#000" color="#000" stroke="#000" stroke-width="0.25">R/d=0.13</text>
<line x1="1009.4" y1="487.9" x2="1012.4" y2="487.9" stroke="#000" stroke-width="1.5"/>
<text x="1020.2" y="494.8" font-size="12.6" fill="#000" color="#000" stroke="#000" stroke-width="0.25">R/d=0.08</text>
<line x1="1009.4" y1="515.3" x2="1012.4" y2="515.3" stroke="#000" stroke-width="1.5"/>
<text x="1020.2" y="522.7" font-size="12.6" fill="#000" color="#000" stroke="#000" stroke-width="0.25">R/d=0.05</text>
<polyline points="413.3,191 423.4,187 435.5,182.3 442.2,181 452.9,176.9 462.9,175.6 471.6,169.6 479.7,160.2 486.4,154.8 491.7,148.1 494.4,145.8 497.6,143.4 500.6,139.4 503.8,134.7 507.5,128.3 511.9,119.8 518.4,110.3 525.1,103.6 527.8,100.9 531.8,96.9 534.5,92.9 540.5,86.8 547.9,82.2 555.9,79.5 557.9,74.8 564,71.4 572,66.7 580,64.1 588.1,62.1 598.8,59.6 610.8,58.7" fill="none" stroke="#1477fa" stroke-width="3.2" stroke-linejoin="round" stroke-linecap="butt"/>
<circle cx="503.2" cy="51.1" r="3.45" fill="url(#g_k)"/>
<circle cx="477.8" cy="79.3" r="3.45" fill="url(#g_k)"/>
<circle cx="458.2" cy="93.4" r="3.45" fill="url(#g_k)"/>
<circle cx="441.8" cy="105.2" r="3.45" fill="url(#g_k)"/>
<circle cx="438.9" cy="112.8" r="3.45" fill="url(#g_k)"/>
<circle cx="421.4" cy="126.9" r="3.45" fill="url(#g_r)"/>
<circle cx="424.8" cy="124.9" r="3.45" fill="url(#g_r)"/>
<circle cx="432.2" cy="119.3" r="3.45" fill="url(#g_r)"/>
<circle cx="451.3" cy="114.2" r="3.45" fill="url(#g_r)"/>
<circle cx="464.1" cy="103.5" r="3.45" fill="url(#g_r)"/>
<circle cx="467" cy="103.5" r="3.45" fill="url(#g_r)"/>
<circle cx="475.8" cy="98.5" r="3.45" fill="url(#g_r)"/>
<circle cx="479.4" cy="93.8" r="3.45" fill="url(#g_r)"/>
<circle cx="484.1" cy="85.3" r="3.45" fill="url(#g_r)"/>
<circle cx="489" cy="86.2" r="3.45" fill="url(#g_r)"/>
<circle cx="498.8" cy="74.4" r="3.45" fill="url(#g_r)"/>
<circle cx="503.5" cy="74.6" r="3.45" fill="url(#g_r)"/>
<circle cx="508.5" cy="67.2" r="3.45" fill="url(#g_r)"/>
<circle cx="413.4" cy="144.3" r="3.45" fill="url(#g_b)"/>
<circle cx="415.8" cy="137.6" r="3.45" fill="url(#g_b)"/>
<circle cx="419.4" cy="139" r="3.45" fill="url(#g_b)"/>
<circle cx="423.5" cy="136.3" r="3.45" fill="url(#g_b)"/>
<circle cx="427.5" cy="134.3" r="3.45" fill="url(#g_b)"/>
<circle cx="432.2" cy="132.3" r="3.45" fill="url(#g_b)"/>
<circle cx="438.9" cy="130.9" r="3.45" fill="url(#g_b)"/>
<circle cx="446.9" cy="128.2" r="3.45" fill="url(#g_b)"/>
<circle cx="452" cy="124.6" r="3.45" fill="url(#g_b)"/>
<circle cx="458.3" cy="120.9" r="3.45" fill="url(#g_b)"/>
<circle cx="466.3" cy="115.5" r="3.45" fill="url(#g_b)"/>
<circle cx="477.7" cy="110.8" r="3.45" fill="url(#g_b)"/>
<circle cx="497.2" cy="96.3" r="3.45" fill="url(#g_b)"/>
<circle cx="423.5" cy="151" r="3.45" fill="url(#g_m)"/>
<circle cx="426.8" cy="149.7" r="3.45" fill="url(#g_m)"/>
<circle cx="425.4" cy="151.3" r="3.45" fill="url(#g_m)"/>
<circle cx="432.2" cy="144.3" r="3.45" fill="url(#g_m)"/>
<circle cx="441.5" cy="142.3" r="3.45" fill="url(#g_m)"/>
<circle cx="445.6" cy="139.6" r="3.45" fill="url(#g_m)"/>
<circle cx="448.9" cy="139" r="3.45" fill="url(#g_m)"/>
<circle cx="458.3" cy="135.6" r="3.45" fill="url(#g_m)"/>
<circle cx="464.3" cy="130.9" r="3.45" fill="url(#g_m)"/>
<circle cx="467.7" cy="127.6" r="3.45" fill="url(#g_m)"/>
<circle cx="472.6" cy="126.8" r="3.45" fill="url(#g_m)"/>
<circle cx="483.4" cy="124.8" r="3.45" fill="url(#g_m)"/>
<circle cx="486.8" cy="121" r="3.45" fill="url(#g_m)"/>
<circle cx="493.9" cy="106.8" r="3.45" fill="url(#g_m)"/>
<circle cx="509.5" cy="99.5" r="3.45" fill="url(#g_m)"/>
<circle cx="424" cy="166.8" r="3.45" fill="url(#g_g)"/>
<circle cx="427.4" cy="164.7" r="3.45" fill="url(#g_g)"/>
<circle cx="430.7" cy="163.4" r="3.45" fill="url(#g_g)"/>
<circle cx="434.7" cy="162.7" r="3.45" fill="url(#g_g)"/>
<circle cx="438.8" cy="161" r="3.45" fill="url(#g_g)"/>
<circle cx="444" cy="157.7" r="3.45" fill="url(#g_g)"/>
<circle cx="450.3" cy="155" r="3.45" fill="url(#g_g)"/>
<circle cx="458" cy="149" r="3.45" fill="url(#g_g)"/>
<circle cx="463" cy="146.3" r="3.45" fill="url(#g_g)"/>
<circle cx="469.4" cy="144.3" r="3.45" fill="url(#g_g)"/>
<circle cx="477.6" cy="137.5" r="3.45" fill="url(#g_g)"/>
<circle cx="470.7" cy="144.5" r="3.45" fill="url(#g_g)"/>
<circle cx="489" cy="127.9" r="3.45" fill="url(#g_g)"/>
<circle cx="508.2" cy="96.3" r="3.45" fill="url(#g_g)"/>
<circle cx="459.9" cy="194" r="3.45" fill="url(#g_n)"/>
<circle cx="467.6" cy="188.2" r="3.45" fill="url(#g_n)"/>
<circle cx="473.3" cy="185.1" r="3.45" fill="url(#g_n)"/>
<circle cx="479" cy="180.6" r="3.45" fill="url(#g_n)"/>
<circle cx="487.1" cy="176.3" r="3.45" fill="url(#g_n)"/>
<circle cx="492.4" cy="172.1" r="3.45" fill="url(#g_n)"/>
<circle cx="498.1" cy="165.4" r="3.45" fill="url(#g_n)"/>
<circle cx="505.9" cy="157.9" r="3.45" fill="url(#g_n)"/>
<circle cx="517.8" cy="137.1" r="3.45" fill="url(#g_n)"/>
<circle cx="537.4" cy="114.5" r="3.45" fill="url(#g_n)"/>
<circle cx="464.9" cy="192.6" r="3.45" fill="url(#g_v)"/>
<circle cx="469.6" cy="192.2" r="3.45" fill="url(#g_v)"/>
<circle cx="473.6" cy="190.5" r="3.45" fill="url(#g_v)"/>
<circle cx="479" cy="182.8" r="3.45" fill="url(#g_v)"/>
<circle cx="481.9" cy="186.2" r="3.45" fill="url(#g_v)"/>
<circle cx="491.6" cy="179.8" r="3.45" fill="url(#g_v)"/>
<circle cx="500.5" cy="168.7" r="3.45" fill="url(#g_v)"/>
<circle cx="507.6" cy="157.5" r="3.45" fill="url(#g_v)"/>
<circle cx="510.7" cy="156.2" r="3.45" fill="url(#g_v)"/>
<circle cx="515.1" cy="150" r="3.45" fill="url(#g_v)"/>
<circle cx="515.3" cy="147.8" r="3.45" fill="url(#g_v)"/>
<circle cx="517.6" cy="142.6" r="3.45" fill="url(#g_v)"/>
<circle cx="525.3" cy="136.2" r="3.45" fill="url(#g_v)"/>
<circle cx="541.7" cy="106.5" r="3.45" fill="url(#g_v)"/>
<circle cx="498.7" cy="204.3" r="3.45" fill="url(#g_p)"/>
<circle cx="505.1" cy="200.9" r="3.45" fill="url(#g_p)"/>
<circle cx="513.1" cy="192.2" r="3.45" fill="url(#g_p)"/>
<circle cx="524.4" cy="173.5" r="3.45" fill="url(#g_p)"/>
<circle cx="532.4" cy="160.4" r="3.45" fill="url(#g_p)"/>
<circle cx="543.9" cy="137.8" r="3.45" fill="url(#g_p)"/>
<circle cx="512.2" cy="205.2" r="3.45" fill="url(#g_w)"/>
<circle cx="519.8" cy="198.2" r="3.45" fill="url(#g_w)"/>
<circle cx="525.2" cy="188.9" r="3.45" fill="url(#g_w)"/>
<circle cx="531.4" cy="174.9" r="3.45" fill="url(#g_w)"/>
<circle cx="538.8" cy="162.1" r="3.45" fill="url(#g_w)"/>
<circle cx="549.6" cy="140.3" r="3.45" fill="url(#g_w)"/>
<circle cx="570.2" cy="113.1" r="3.45" fill="url(#g_w)"/>
<circle cx="521.8" cy="193.6" r="3.45" fill="url(#g_o)"/>
<circle cx="527.8" cy="191.5" r="3.45" fill="url(#g_o)"/>
<circle cx="533.9" cy="180.2" r="3.45" fill="url(#g_o)"/>
<circle cx="541.4" cy="162.5" r="3.45" fill="url(#g_o)"/>
<circle cx="552.5" cy="140.2" r="3.45" fill="url(#g_o)"/>
<circle cx="572.5" cy="98.4" r="3.45" fill="url(#g_o)"/>
<circle cx="526.9" cy="195.3" r="3.45" fill="url(#g_s)"/>
<circle cx="531.9" cy="186.4" r="3.45" fill="url(#g_s)"/>
<circle cx="538.2" cy="177.1" r="3.45" fill="url(#g_s)"/>
<circle cx="546.2" cy="164.1" r="3.45" fill="url(#g_s)"/>
<circle cx="557.6" cy="139.2" r="3.45" fill="url(#g_s)"/>
<circle cx="576.9" cy="102.4" r="3.45" fill="url(#g_s)"/>
<circle cx="536.8" cy="198.9" r="3.45" fill="url(#g_t)"/>
<circle cx="541.9" cy="192.9" r="3.45" fill="url(#g_t)"/>
<circle cx="547.5" cy="179.4" r="3.45" fill="url(#g_t)"/>
<circle cx="556.2" cy="161.4" r="3.45" fill="url(#g_t)"/>
<circle cx="567.1" cy="140.2" r="3.45" fill="url(#g_t)"/>
<circle cx="586.5" cy="102.2" r="3.45" fill="url(#g_t)"/>
<circle cx="555.6" cy="181.2" r="3.45" fill="url(#g_br)"/>
<circle cx="564.7" cy="176.9" r="3.45" fill="url(#g_br)"/>
<circle cx="566.4" cy="166.9" r="3.45" fill="url(#g_br)"/>
<circle cx="576.3" cy="150.1" r="3.45" fill="url(#g_br)"/>
<circle cx="581.4" cy="139.9" r="3.45" fill="url(#g_br)"/>
<circle cx="591.2" cy="122.9" r="3.45" fill="url(#g_br)"/>
<circle cx="601.3" cy="102.8" r="3.45" fill="url(#g_br)"/>
<circle cx="611.3" cy="83.1" r="3.45" fill="url(#g_br)"/>
<circle cx="553.3" cy="200.3" r="3.45" fill="url(#g_lg)"/>
<circle cx="558.3" cy="193" r="3.45" fill="url(#g_lg)"/>
<circle cx="564.7" cy="181.5" r="3.45" fill="url(#g_lg)"/>
<circle cx="573.2" cy="164" r="3.45" fill="url(#g_lg)"/>
<circle cx="583" cy="137.7" r="3.45" fill="url(#g_lg)"/>
<circle cx="603.3" cy="100.2" r="3.45" fill="url(#g_lg)"/>
<circle cx="558.5" cy="184.2" r="3.45" fill="url(#g_pk)"/>
<circle cx="560" cy="180.2" r="3.45" fill="url(#g_pk)"/>
<circle cx="563.1" cy="175.6" r="3.45" fill="url(#g_pk)"/>
<circle cx="565.8" cy="169.6" r="3.45" fill="url(#g_pk)"/>
<circle cx="570.2" cy="163.4" r="3.45" fill="url(#g_pk)"/>
<circle cx="572.1" cy="158.5" r="3.45" fill="url(#g_pk)"/>
<circle cx="578" cy="151.2" r="3.45" fill="url(#g_pk)"/>
<circle cx="580.2" cy="146" r="3.45" fill="url(#g_pk)"/>
<circle cx="585.1" cy="139.6" r="3.45" fill="url(#g_pk)"/>
<circle cx="588.2" cy="135.1" r="3.45" fill="url(#g_pk)"/>
<circle cx="591.6" cy="127.9" r="3.45" fill="url(#g_pk)"/>
<circle cx="595.3" cy="122" r="3.45" fill="url(#g_pk)"/>
<text x="406.5" y="44.9" font-size="16" fill="#000" color="#000"><tspan font-style="italic" font-size="15.5">β</tspan><tspan font-size="8.8" dy="3.5">eff-MG</tspan><tspan dy="-3.5" x="448.4" font-size="17">∝</tspan><tspan x="462.6">(</tspan><tspan x="467.4" font-style="italic">R</tspan><tspan x="482.4" font-style="italic">/</tspan><tspan x="489.6" font-style="italic">d</tspan><tspan x="499.6">)</tspan><tspan x="505.4" font-size="9" dy="-8.4" font-style="italic">n</tspan><tspan font-size="7" dy="2.6">4</tspan></text>
<circle cx="115.2" cy="144.7" r="3.45" fill="url(#g_k)"/>
<circle cx="121.9" cy="138" r="3.45" fill="url(#g_k)"/>
<circle cx="125.2" cy="126.3" r="3.45" fill="url(#g_k)"/>
<circle cx="143.1" cy="120.8" r="3.45" fill="url(#g_k)"/>
<circle cx="163.9" cy="116.2" r="3.45" fill="url(#g_k)"/>
<circle cx="192" cy="104.7" r="3.45" fill="url(#g_k)"/>
<circle cx="102.6" cy="115.2" r="3.45" fill="url(#g_r)"/>
<circle cx="106.6" cy="113.2" r="3.45" fill="url(#g_r)"/>
<circle cx="114.6" cy="107.7" r="3.45" fill="url(#g_r)"/>
<circle cx="135.7" cy="113.9" r="3.45" fill="url(#g_r)"/>
<circle cx="149.7" cy="107.2" r="3.45" fill="url(#g_r)"/>
<circle cx="152.4" cy="109.2" r="3.45" fill="url(#g_r)"/>
<circle cx="162.1" cy="110" r="3.45" fill="url(#g_r)"/>
<circle cx="171.2" cy="96.7" r="3.45" fill="url(#g_r)"/>
<circle cx="167.2" cy="106.5" r="3.45" fill="url(#g_r)"/>
<circle cx="188" cy="105.7" r="3.45" fill="url(#g_r)"/>
<circle cx="192.3" cy="107.7" r="3.45" fill="url(#g_r)"/>
<circle cx="197.8" cy="105.7" r="3.45" fill="url(#g_r)"/>
<circle cx="93.8" cy="105" r="3.45" fill="url(#g_b)"/>
<circle cx="97.1" cy="95.9" r="3.45" fill="url(#g_b)"/>
<circle cx="100.6" cy="101" r="3.45" fill="url(#g_b)"/>
<circle cx="104.6" cy="98.6" r="3.45" fill="url(#g_b)"/>
<circle cx="109.1" cy="98.1" r="3.45" fill="url(#g_b)"/>
<circle cx="121.7" cy="101.2" r="3.45" fill="url(#g_b)"/>
<circle cx="136.8" cy="102" r="3.45" fill="url(#g_b)"/>
<circle cx="151.3" cy="99.1" r="3.45" fill="url(#g_b)"/>
<circle cx="136.5" cy="101.6" r="3.45" fill="url(#g_b)"/>
<circle cx="185.5" cy="108.2" r="3.45" fill="url(#g_b)"/>
<circle cx="114.6" cy="97.1" r="3.45" fill="url(#g_m)"/>
<circle cx="106.6" cy="100.2" r="3.45" fill="url(#g_m)"/>
<circle cx="109.1" cy="106.2" r="3.45" fill="url(#g_m)"/>
<circle cx="127.2" cy="102.2" r="3.45" fill="url(#g_m)"/>
<circle cx="131.2" cy="102" r="3.45" fill="url(#g_m)"/>
<circle cx="142.8" cy="106.2" r="3.45" fill="url(#g_m)"/>
<circle cx="153.3" cy="101" r="3.45" fill="url(#g_m)"/>
<circle cx="158.9" cy="104.7" r="3.45" fill="url(#g_m)"/>
<circle cx="132" cy="101.6" r="3.45" fill="url(#g_m)"/>
<circle cx="152.6" cy="100.6" r="3.45" fill="url(#g_m)"/>
<circle cx="158.6" cy="104.1" r="3.45" fill="url(#g_m)"/>
<circle cx="181.7" cy="100.1" r="3.45" fill="url(#g_m)"/>
<circle cx="171.7" cy="115.2" r="3.45" fill="url(#g_m)"/>
<circle cx="174.9" cy="115.2" r="3.45" fill="url(#g_m)"/>
<circle cx="199" cy="114.2" r="3.45" fill="url(#g_m)"/>
<circle cx="106.1" cy="103.7" r="3.45" fill="url(#g_g)"/>
<circle cx="109.6" cy="103.7" r="3.45" fill="url(#g_g)"/>
<circle cx="113.1" cy="104.2" r="3.45" fill="url(#g_g)"/>
<circle cx="117.2" cy="104.7" r="3.45" fill="url(#g_g)"/>
<circle cx="121.7" cy="105.2" r="3.45" fill="url(#g_g)"/>
<circle cx="127.2" cy="104.2" r="3.45" fill="url(#g_g)"/>
<circle cx="134.2" cy="105.7" r="3.45" fill="url(#g_g)"/>
<circle cx="143.2" cy="101.7" r="3.45" fill="url(#g_g)"/>
<circle cx="148.7" cy="103.4" r="3.45" fill="url(#g_g)"/>
<circle cx="155.5" cy="107.7" r="3.45" fill="url(#g_g)"/>
<circle cx="164.3" cy="105.2" r="3.45" fill="url(#g_g)"/>
<circle cx="176.7" cy="105.2" r="3.45" fill="url(#g_g)"/>
<circle cx="196.7" cy="86.6" r="3.45" fill="url(#g_g)"/>
<circle cx="144.7" cy="87.8" r="3.45" fill="url(#g_n)"/>
<circle cx="149.1" cy="90.4" r="3.45" fill="url(#g_n)"/>
<circle cx="153.7" cy="89.4" r="3.45" fill="url(#g_n)"/>
<circle cx="165.2" cy="90.1" r="3.45" fill="url(#g_n)"/>
<circle cx="174.7" cy="93.1" r="3.45" fill="url(#g_n)"/>
<circle cx="180.5" cy="93.4" r="3.45" fill="url(#g_n)"/>
<circle cx="187.2" cy="93.7" r="3.45" fill="url(#g_n)"/>
<circle cx="196" cy="94.7" r="3.45" fill="url(#g_n)"/>
<circle cx="208.2" cy="84.1" r="3.45" fill="url(#g_n)"/>
<circle cx="229.3" cy="94.7" r="3.45" fill="url(#g_n)"/>
<circle cx="150.4" cy="82.6" r="3.45" fill="url(#g_v)"/>
<circle cx="155.8" cy="87.1" r="3.45" fill="url(#g_v)"/>
<circle cx="159.8" cy="88.6" r="3.45" fill="url(#g_v)"/>
<circle cx="166.1" cy="82.6" r="3.45" fill="url(#g_v)"/>
<circle cx="161" cy="88.6" r="3.45" fill="url(#g_v)"/>
<circle cx="168.6" cy="90.7" r="3.45" fill="url(#g_v)"/>
<circle cx="179.7" cy="94.9" r="3.45" fill="url(#g_v)"/>
<circle cx="189.2" cy="88.6" r="3.45" fill="url(#g_v)"/>
<circle cx="197.7" cy="83.6" r="3.45" fill="url(#g_v)"/>
<circle cx="199.8" cy="86.8" r="3.45" fill="url(#g_v)"/>
<circle cx="201.8" cy="89.1" r="3.45" fill="url(#g_v)"/>
<circle cx="207.7" cy="76.6" r="3.45" fill="url(#g_v)"/>
<circle cx="216.3" cy="85.6" r="3.45" fill="url(#g_v)"/>
<circle cx="234.4" cy="79.1" r="3.45" fill="url(#g_v)"/>
<circle cx="187.6" cy="72.6" r="3.45" fill="url(#g_p)"/>
<circle cx="194.2" cy="78.6" r="3.45" fill="url(#g_p)"/>
<circle cx="236.4" cy="62.1" r="3.45" fill="url(#g_p)"/>
<circle cx="201.8" cy="77.1" r="3.45" fill="url(#g_w)"/>
<circle cx="204.5" cy="80.1" r="3.45" fill="url(#g_w)"/>
<circle cx="210.3" cy="82.6" r="3.45" fill="url(#g_w)"/>
<circle cx="216.3" cy="80.1" r="3.45" fill="url(#g_w)"/>
<circle cx="243.5" cy="64.6" r="3.45" fill="url(#g_w)"/>
<circle cx="265.2" cy="80.2" r="3.45" fill="url(#g_w)"/>
<circle cx="212.8" cy="73.1" r="3.45" fill="url(#g_o)"/>
<circle cx="218.8" cy="83.1" r="3.45" fill="url(#g_o)"/>
<circle cx="225.8" cy="77.6" r="3.45" fill="url(#g_o)"/>
<circle cx="234.9" cy="70.4" r="3.45" fill="url(#g_o)"/>
<circle cx="269.2" cy="54" r="3.45" fill="url(#g_o)"/>
<circle cx="217.8" cy="71.6" r="3.45" fill="url(#g_s)"/>
<circle cx="223.3" cy="70.1" r="3.45" fill="url(#g_s)"/>
<circle cx="238.2" cy="71.1" r="3.45" fill="url(#g_s)"/>
<circle cx="252.1" cy="61.1" r="3.45" fill="url(#g_s)"/>
<circle cx="229.3" cy="71.1" r="3.45" fill="url(#g_t)"/>
<circle cx="234.4" cy="76.1" r="3.45" fill="url(#g_t)"/>
<circle cx="241" cy="70.6" r="3.45" fill="url(#g_t)"/>
<circle cx="235.5" cy="76.2" r="3.45" fill="url(#g_t)"/>
<circle cx="250.6" cy="62.6" r="3.45" fill="url(#g_t)"/>
<circle cx="262.1" cy="61.1" r="3.45" fill="url(#g_t)"/>
<circle cx="249.6" cy="49.5" r="3.45" fill="url(#g_br)"/>
<circle cx="261.6" cy="56.1" r="3.45" fill="url(#g_br)"/>
<circle cx="266.7" cy="56.6" r="3.45" fill="url(#g_br)"/>
<circle cx="272.7" cy="60.1" r="3.45" fill="url(#g_br)"/>
<circle cx="278.2" cy="59.1" r="3.45" fill="url(#g_br)"/>
<circle cx="289.3" cy="63.6" r="3.45" fill="url(#g_br)"/>
<circle cx="299.8" cy="58.6" r="3.45" fill="url(#g_br)"/>
<circle cx="310.4" cy="58.1" r="3.45" fill="url(#g_br)"/>
<circle cx="259.1" cy="65.1" r="3.45" fill="url(#g_br)"/>
<circle cx="246.6" cy="65.6" r="3.45" fill="url(#g_lg)"/>
<circle cx="252.1" cy="70.1" r="3.45" fill="url(#g_lg)"/>
<circle cx="259.1" cy="68.1" r="3.45" fill="url(#g_lg)"/>
<circle cx="268.2" cy="63.6" r="3.45" fill="url(#g_lg)"/>
<circle cx="281.2" cy="55.1" r="3.45" fill="url(#g_lg)"/>
<circle cx="301.8" cy="53.5" r="3.45" fill="url(#g_lg)"/>
<circle cx="253.6" cy="49" r="3.45" fill="url(#g_pk)"/>
<circle cx="257.6" cy="50.5" r="3.45" fill="url(#g_pk)"/>
<circle cx="260.6" cy="47.5" r="3.45" fill="url(#g_pk)"/>
<circle cx="267.2" cy="48.5" r="3.45" fill="url(#g_pk)"/>
<circle cx="265.7" cy="52" r="3.45" fill="url(#g_pk)"/>
<circle cx="273.7" cy="55" r="3.45" fill="url(#g_pk)"/>
<circle cx="276.2" cy="52.5" r="3.45" fill="url(#g_pk)"/>
<circle cx="281.7" cy="57.6" r="3.45" fill="url(#g_pk)"/>
<circle cx="285.3" cy="60.1" r="3.45" fill="url(#g_pk)"/>
<circle cx="288.3" cy="57.6" r="3.45" fill="url(#g_pk)"/>
<circle cx="292.3" cy="60.1" r="3.45" fill="url(#g_pk)"/>
<polyline points="756,188 768.7,185.4 776.8,182.9 784.8,181.6 794.9,178.3 804.9,177.3 812.3,170.2 817,167.5 820.3,166.9 821.6,161.5 826.3,158.2 829,158.8 830.4,155.5 833.7,152.8 835.7,149.5 841.1,145.4 841.7,138.7 846.4,136.1 849.1,133.4 851.1,126 855.4,118.3 860.7,114.3 864.7,109 867.4,103.6 870.1,99.6 873.4,98.9 876.8,92.9 880.8,86.2 888.9,80.8 898.2,77.5 901.6,73.4 906.3,70.8 914.3,66.7 925,62.7 935.7,60 943.8,59.1 952.5,58.7" fill="none" stroke="#1477fa" stroke-width="3.2" stroke-linejoin="round" stroke-linecap="butt"/>
<circle cx="774.8" cy="33.7" r="3.45" fill="url(#g_k)"/>
<circle cx="781.2" cy="38" r="3.45" fill="url(#g_k)"/>
<circle cx="784.5" cy="43.4" r="3.45" fill="url(#g_k)"/>
<circle cx="800.5" cy="51.4" r="3.45" fill="url(#g_k)"/>
<circle cx="819.8" cy="61.1" r="3.45" fill="url(#g_k)"/>
<circle cx="762.4" cy="42.1" r="3.45" fill="url(#g_r)"/>
<circle cx="795.8" cy="52.6" r="3.45" fill="url(#g_r)"/>
<circle cx="832.5" cy="73.8" r="3.45" fill="url(#g_r)"/>
<circle cx="845.1" cy="81" r="3.45" fill="url(#g_r)"/>
<circle cx="755.4" cy="42.4" r="3.45" fill="url(#g_b)"/>
<circle cx="758" cy="48.1" r="3.45" fill="url(#g_b)"/>
<circle cx="764.1" cy="44.7" r="3.45" fill="url(#g_b)"/>
<circle cx="769.4" cy="51.4" r="3.45" fill="url(#g_b)"/>
<circle cx="780.1" cy="53.1" r="3.45" fill="url(#g_b)"/>
<circle cx="794.9" cy="57.8" r="3.45" fill="url(#g_b)"/>
<circle cx="821.8" cy="66.4" r="3.45" fill="url(#g_b)"/>
<circle cx="839.8" cy="76.6" r="3.45" fill="url(#g_b)"/>
<circle cx="765.4" cy="48.1" r="3.45" fill="url(#g_m)"/>
<circle cx="774.1" cy="52.1" r="3.45" fill="url(#g_m)"/>
<circle cx="782.8" cy="54.5" r="3.45" fill="url(#g_m)"/>
<circle cx="788.2" cy="55.8" r="3.45" fill="url(#g_m)"/>
<circle cx="791.5" cy="56.8" r="3.45" fill="url(#g_m)"/>
<circle cx="799" cy="58.8" r="3.45" fill="url(#g_m)"/>
<circle cx="815.1" cy="62.1" r="3.45" fill="url(#g_m)"/>
<circle cx="825.1" cy="64.4" r="3.45" fill="url(#g_m)"/>
<circle cx="829.2" cy="66.1" r="3.45" fill="url(#g_m)"/>
<circle cx="836.4" cy="77.5" r="3.45" fill="url(#g_m)"/>
<circle cx="851.4" cy="83.6" r="3.45" fill="url(#g_m)"/>
<circle cx="766.1" cy="41.7" r="3.45" fill="url(#g_g)"/>
<circle cx="769.4" cy="42.4" r="3.45" fill="url(#g_g)"/>
<circle cx="773.5" cy="43.7" r="3.45" fill="url(#g_g)"/>
<circle cx="777.5" cy="44.4" r="3.45" fill="url(#g_g)"/>
<circle cx="781.5" cy="45.7" r="3.45" fill="url(#g_g)"/>
<circle cx="785.5" cy="47.4" r="3.45" fill="url(#g_g)"/>
<circle cx="791.5" cy="49.8" r="3.45" fill="url(#g_g)"/>
<circle cx="800" cy="54.6" r="3.45" fill="url(#g_g)"/>
<circle cx="805.2" cy="56.4" r="3.45" fill="url(#g_g)"/>
<circle cx="811.4" cy="58.1" r="3.45" fill="url(#g_g)"/>
<circle cx="819.8" cy="63.1" r="3.45" fill="url(#g_g)"/>
<circle cx="830.8" cy="70.1" r="3.45" fill="url(#g_g)"/>
<circle cx="852.1" cy="91.8" r="3.45" fill="url(#g_g)"/>
<circle cx="801.5" cy="63.1" r="3.45" fill="url(#g_n)"/>
<circle cx="805.7" cy="64.3" r="3.45" fill="url(#g_n)"/>
<circle cx="810.1" cy="66.4" r="3.45" fill="url(#g_n)"/>
<circle cx="814.4" cy="68.4" r="3.45" fill="url(#g_n)"/>
<circle cx="820.5" cy="71.8" r="3.45" fill="url(#g_n)"/>
<circle cx="828.8" cy="76.8" r="3.45" fill="url(#g_n)"/>
<circle cx="840.6" cy="83" r="3.45" fill="url(#g_n)"/>
<circle cx="848.7" cy="89.1" r="3.45" fill="url(#g_n)"/>
<circle cx="860.9" cy="102.7" r="3.45" fill="url(#g_n)"/>
<circle cx="879.5" cy="120.1" r="3.45" fill="url(#g_n)"/>
<circle cx="880.7" cy="121" r="3.45" fill="url(#g_n)"/>
<circle cx="806.4" cy="71.1" r="3.45" fill="url(#g_v)"/>
<circle cx="811.4" cy="71.5" r="3.45" fill="url(#g_v)"/>
<circle cx="815.8" cy="72.5" r="3.45" fill="url(#g_v)"/>
<circle cx="820.5" cy="77.5" r="3.45" fill="url(#g_v)"/>
<circle cx="823.8" cy="75.8" r="3.45" fill="url(#g_v)"/>
<circle cx="833.8" cy="80.5" r="3.45" fill="url(#g_v)"/>
<circle cx="836.3" cy="79.4" r="3.45" fill="url(#g_v)"/>
<circle cx="853.6" cy="96.4" r="3.45" fill="url(#g_v)"/>
<circle cx="857.5" cy="106.8" r="3.45" fill="url(#g_v)"/>
<circle cx="868.1" cy="109.7" r="3.45" fill="url(#g_v)"/>
<circle cx="884.8" cy="131.2" r="3.45" fill="url(#g_v)"/>
<circle cx="840.7" cy="92.1" r="3.45" fill="url(#g_p)"/>
<circle cx="846.4" cy="94.8" r="3.45" fill="url(#g_p)"/>
<circle cx="884.4" cy="141.1" r="3.45" fill="url(#g_p)"/>
<circle cx="853.5" cy="101.9" r="3.45" fill="url(#g_w)"/>
<circle cx="862.3" cy="106.3" r="3.45" fill="url(#g_w)"/>
<circle cx="890.8" cy="148.1" r="3.45" fill="url(#g_w)"/>
<circle cx="893.8" cy="146.5" r="3.45" fill="url(#g_w)"/>
<circle cx="912.2" cy="166" r="3.45" fill="url(#g_w)"/>
<circle cx="864.1" cy="113.4" r="3.45" fill="url(#g_o)"/>
<circle cx="869.8" cy="113.4" r="3.45" fill="url(#g_o)"/>
<circle cx="876.1" cy="122.1" r="3.45" fill="url(#g_o)"/>
<circle cx="882.7" cy="136.1" r="3.45" fill="url(#g_o)"/>
<circle cx="868.1" cy="118.1" r="3.45" fill="url(#g_s)"/>
<circle cx="872.8" cy="124.4" r="3.45" fill="url(#g_s)"/>
<circle cx="888.1" cy="139.4" r="3.45" fill="url(#g_s)"/>
<circle cx="896.8" cy="157.5" r="3.45" fill="url(#g_s)"/>
<circle cx="918.5" cy="181.5" r="3.45" fill="url(#g_s)"/>
<circle cx="878.8" cy="129.6" r="3.45" fill="url(#g_t)"/>
<circle cx="884.1" cy="133.1" r="3.45" fill="url(#g_t)"/>
<circle cx="890.1" cy="142.1" r="3.45" fill="url(#g_t)"/>
<circle cx="911.1" cy="170.4" r="3.45" fill="url(#g_t)"/>
<circle cx="897" cy="162.2" r="3.45" fill="url(#g_br)"/>
<circle cx="919.8" cy="183.5" r="3.45" fill="url(#g_br)"/>
<circle cx="921.1" cy="187" r="3.45" fill="url(#g_br)"/>
<circle cx="924.6" cy="191.5" r="3.45" fill="url(#g_br)"/>
<circle cx="934.6" cy="203.6" r="3.45" fill="url(#g_br)"/>
<circle cx="943.7" cy="218.7" r="3.45" fill="url(#g_br)"/>
<circle cx="953.2" cy="232.7" r="3.45" fill="url(#g_br)"/>
<circle cx="895.1" cy="151.5" r="3.45" fill="url(#g_lg)"/>
<circle cx="900.9" cy="156.2" r="3.45" fill="url(#g_lg)"/>
<circle cx="907.2" cy="164.1" r="3.45" fill="url(#g_lg)"/>
<circle cx="915.4" cy="177.1" r="3.45" fill="url(#g_lg)"/>
<circle cx="925.1" cy="196.1" r="3.45" fill="url(#g_lg)"/>
<circle cx="945.2" cy="222.7" r="3.45" fill="url(#g_lg)"/>
<circle cx="899.7" cy="164" r="3.45" fill="url(#g_pk)"/>
<circle cx="901.4" cy="167.1" r="3.45" fill="url(#g_pk)"/>
<circle cx="904.1" cy="170.1" r="3.45" fill="url(#g_pk)"/>
<circle cx="907.1" cy="174.8" r="3.45" fill="url(#g_pk)"/>
<circle cx="911.1" cy="178.8" r="3.45" fill="url(#g_pk)"/>
<circle cx="913.1" cy="182.1" r="3.45" fill="url(#g_pk)"/>
<circle cx="918.5" cy="187.8" r="3.45" fill="url(#g_pk)"/>
<circle cx="921.1" cy="191.2" r="3.45" fill="url(#g_pk)"/>
<circle cx="922.6" cy="194" r="3.45" fill="url(#g_pk)"/>
<circle cx="926.1" cy="197.1" r="3.45" fill="url(#g_pk)"/>
<circle cx="927.2" cy="194.5" r="3.45" fill="url(#g_pk)"/>
<circle cx="930.6" cy="199.6" r="3.45" fill="url(#g_pk)"/>
<circle cx="931.6" cy="205.1" r="3.45" fill="url(#g_pk)"/>
<circle cx="935.1" cy="208.6" r="3.45" fill="url(#g_pk)"/>
<circle cx="938.1" cy="209.6" r="3.45" fill="url(#g_pk)"/>
<polyline points="755.82,45.81 757.46,46.01 759.1,46.22 760.75,46.45 762.39,46.69 764.03,46.93 765.67,47.2 767.31,47.48 768.95,47.77 770.59,48.07 772.23,48.4 773.87,48.74 775.51,49.1 777.15,49.47 778.79,49.87 780.43,50.28 782.07,50.72 783.72,51.18 785.36,51.66 787,52.16 788.64,52.69 790.28,53.24 791.92,53.82 793.56,54.42 795.2,55.05 796.84,55.71 798.48,56.39 800.12,57.11 801.76,57.86 803.4,58.63 805.04,59.44 806.69,60.28 808.33,61.16 809.97,62.06 811.61,63.01 813.25,63.98 814.89,64.99 816.53,66.04 818.17,67.12 819.81,68.23 821.45,69.38 823.09,70.57 824.73,71.79 826.37,73.05 828.01,74.35 829.66,75.68 831.3,77.05 832.94,78.45 834.58,79.89 836.22,81.36 837.86,82.87 839.5,84.41 841.14,85.98 842.78,87.59 844.42,89.22 846.06,90.9 847.7,92.6 849.34,94.33 850.98,96.09 852.63,97.88 854.27,99.7 855.91,101.54 857.55,103.41 859.19,105.31 860.83,107.23 862.47,109.18 864.11,111.14 865.75,113.14 867.39,115.15 869.03,117.18 870.67,119.23 872.31,121.31 873.95,123.4 875.6,125.51 877.24,127.63 878.88,129.77 880.52,131.93 882.16,134.1 883.8,136.29 885.44,138.49 887.08,140.7 888.72,142.93 890.36,145.16 892,147.41 893.64,149.67 895.28,151.94 896.93,154.22 898.57,156.51 900.21,158.8 901.85,161.11 903.49,163.42 905.13,165.74 906.77,168.07 908.41,170.4 910.05,172.74 911.69,175.09 913.33,177.44 914.97,179.8 916.61,182.16 918.25,184.53 919.9,186.9 921.54,189.27 923.18,191.65 924.82,194.04 926.46,196.43 928.1,198.82 929.74,201.21 931.38,203.61 933.02,206.01 934.66,208.42 936.3,210.82 937.94,213.23 939.58,215.64 941.22,218.06 942.87,220.47 944.51,222.89 946.15,225.31 947.79,227.73 949.43,230.15 951.07,232.58 952.71,235" fill="none" stroke="#000" stroke-width="1.9" stroke-linejoin="round" stroke-linecap="butt"/>
<line x1="913.9" y1="186.8" x2="903.5" y2="201" stroke="#000" stroke-width="1.6"/>
<polygon points="897.5,209.5 900.2,196.5 908.8,202.8" fill="#000"/>
<text x="822" y="47" font-size="13" fill="#000" color="#000"><tspan font-style="italic" font-size="15">k</tspan><tspan font-size="8.8" dy="3.5">MG</tspan><tspan dy="-3.5" x="848.4" font-size="16.5">∝</tspan><tspan x="861.8" font-size="15.5" dy="0.8">(</tspan><tspan x="867.8" font-style="italic" font-size="13.5" dy="-0.8">R</tspan><tspan x="881.6" font-size="13.5">/</tspan><tspan x="889.6" font-style="italic" font-size="13.5">d</tspan><tspan x="899.4" font-size="15.5" dy="0.8">)</tspan><tspan x="904.6" font-size="8.5" dy="-7.3">−</tspan><tspan font-size="8.5" font-style="italic">n</tspan><tspan font-size="6" dy="2">5</tspan></text>
<text x="743.5" y="225.6" font-size="14.5" fill="#000" color="#000"><tspan font-style="italic">k</tspan><tspan font-size="9" dy="3">MG</tspan><tspan dy="-3"> = 1.680</tspan><tspan x="819.6">×</tspan><tspan x="829.6">(</tspan></text>
<text x="841.8" y="216.6" font-size="12.5" fill="#000" color="#000" text-anchor="middle" font-style="italic">R</text>
<line x1="836.8" y1="220.4" x2="846.8" y2="220.4" stroke="#000" stroke-width="0.9"/>
<text x="841.8" y="236.4" font-size="12.5" fill="#000" color="#000" text-anchor="middle" font-style="italic">d</text>
<text x="849.5" y="225.6" font-size="14.5" fill="#000" color="#000">+ 0.468)<tspan font-size="9.2" dy="-6.6">−1.066</tspan></text>
<polyline points="116,512.3 227.6,511.6 246,511.1 255.2,509.6 262.6,505.8 268.1,498.4 270.9,489.2 272.2,478.1 273.7,474.5 275.5,476.3 277.3,469.9 280.1,468.9 282,457.9 284,443.3 286.7,432.5 288.9,424 291.5,421.5 292.6,401.5 293.2,375.3 293.6,353.6 294.1,343.8 295.6,344.6 298.5,350.5 300.8,324.2" fill="none" stroke="#000000" stroke-width="2.8" stroke-linejoin="round" stroke-linecap="butt"/>
<polyline points="116,512.3 227.6,511.5 233.1,507.6 236.8,504.8 242.4,500.2 247.9,493.8 250.6,487.3 252.5,476.3 254.3,463.4 256.2,450.5 258,446.8 258.3,432.7 259.4,402.2 260.5,360.8 261.6,358.6" fill="none" stroke="#ff0000" stroke-width="2.8" stroke-linejoin="round" stroke-linecap="butt"/>
<polyline points="116,512.3 222,511.5 228,508 233,502 238.5,492 242,482 245,465 247.4,445 249.2,424 251.8,380.4 254,332.4" fill="none" stroke="#0000ff" stroke-width="2.8" stroke-linejoin="round" stroke-linecap="butt"/>
<polyline points="116,512.3 220,511.3 224,508.5 227.6,502.1 232,492 236.8,468.9 239.5,445 241.5,424 244,400 247.5,370 249.5,340 250.7,324.2" fill="none" stroke="#ff00ff" stroke-width="2.8" stroke-linejoin="round" stroke-linecap="butt"/>
<polyline points="116,512.3 223,511 227,508 230.4,500.2 235,490 238.5,478 241,460 243.1,445 245,424 247.5,400 250.5,365 253.5,324.2" fill="none" stroke="#008000" stroke-width="2.8" stroke-linejoin="round" stroke-linecap="butt"/>
<polyline points="116,512.3 225.8,509.8 232.2,501.2 237.8,489.2 240.5,480 243.3,459.7 244.8,445 246.3,424 248.5,402.2 250.7,369.5 252.9,332.4" fill="none" stroke="#000080" stroke-width="2.8" stroke-linejoin="round" stroke-linecap="butt"/>
<polyline points="116,512.3 218.4,509.6 223.9,506.7 229.5,498.4 234.1,487.3 236.8,476.3 239.6,456 239.8,445 241.3,424 243.1,402.2 243.4,391.5 246.3,389.3 248.5,358.6 250.7,328.1" fill="none" stroke="#800080" stroke-width="2.8" stroke-linejoin="round" stroke-linecap="butt"/>
<polyline points="116,512.3 200,511.6 218.4,510.6 227.6,507.6 233.1,502.1 238.7,494.7 241.4,487.3 243.3,470.8 246,457.9 248.8,447.8 250.6,437.6 251.8,424 254,397.8 256.2,380.4 257.9,324.2" fill="none" stroke="#3366a8" stroke-width="2.8" stroke-linejoin="round" stroke-linecap="butt"/>
<polyline points="408.9,348.1 412.1,352.1 415.6,349.4 416.6,350.7 418.8,365.5 420.9,370.1 424.7,371.7 429,377 431.7,384.3 434.9,392.3 438.1,395 440.3,392.3 442.4,400.4 445.6,396.4 447,397.7 449.7,412.5 453.2,424.6 456.4,432.6 458.1,440.7 462.8,454.8 466.8,458.1 470.6,470.2 474.6,476.2 478.6,483.6 486.9,488.3 490.9,497.7 495.6,502.4" fill="none" stroke="#000000" stroke-width="2.8" stroke-linejoin="round" stroke-linecap="butt"/>
<polyline points="465.4,336.9 467.5,336.9 469.2,348.5 470.9,359.4 472.3,366 475.8,368.4 478.1,375.2 481.8,382.7 485.6,393.3 488.6,400.8 491.6,399.3 494.7,408.5 498.4,412.1 501.4,412.4 506.4,422.1 513.5,427.9 520.5,439.7 528.7,433.8 535.7,447.9 545.1,457.3 551,467.8 559.2,474.8 564.6,475.6" fill="none" stroke="#ff0000" stroke-width="2.8" stroke-linejoin="round" stroke-linecap="butt"/>
<polyline points="482.2,328 484.7,331.3 490,339 497,349.4 504.1,363.5 508.8,375.2 512.3,390.4 515.8,402.1 518.1,409.2 521.7,401 525.2,396.3 528.7,404.5 533.4,417.4 540.4,429.1 546.3,440.8 551,452.6 555.7,462 559.2,470.2 565,468.5 567.2,470.2 575.8,482.1 581.9,495.2" fill="none" stroke="#0000ff" stroke-width="2.8" stroke-linejoin="round" stroke-linecap="butt"/>
<polyline points="484,327 488,334 491,342.6 499.4,349.4 503.6,352.7 506.9,353.5 511.9,356 515.8,367 521.7,376.4 527.5,385.7 535.7,395.1 541.6,405.7 546.3,402.1 551,417.4 556.8,427.9 562.7,436.2 568.6,446.7 574.4,454.9 579.1,456.1 583.8,465.5" fill="none" stroke="#ff00ff" stroke-width="2.8" stroke-linejoin="round" stroke-linecap="butt"/>
<polyline points="482.2,325.5 485.1,329.7 488.5,335.1 493.1,338.6 496.9,346 501,350.2 504.4,355.2 507.5,361 512.3,369.3 519.3,378.7 525.2,384.6 528.7,393.9 534.6,402.1 540.4,409.2 546.3,419.7 552.1,427.9 554.5,433.8 559.2,431.5 565,440.8 570.9,450.2 576.8,458.4 580.3,463.1" fill="none" stroke="#008000" stroke-width="2.8" stroke-linejoin="round" stroke-linecap="butt"/>
<polyline points="486,325 488.5,330.1 491,337.6 493.5,344.3 496,350.2 497.7,356.9 501.3,363 504.4,366 507.6,375.2 513.5,385.7 517,396.3 519.3,403.3 522.8,398.6 526.4,397.5 529.9,406.8 534.6,417.4 539.2,425.6 545.1,426.8 549.8,433.8 554.5,438.5 560.4,447.9 565,449.1 570.9,457.3 575.6,462 580.3,467.8" fill="none" stroke="#000080" stroke-width="2.8" stroke-linejoin="round" stroke-linecap="butt"/>
<polyline points="488.5,324.6 491.8,330.1 495.2,334.3 497.3,339.3 500.2,336.8 503.6,337.2 506.1,341 507.7,346 509.4,353.5 510.9,362 515.8,365.8 521.7,375.2 527.5,384.6 533.4,390.4 539.2,396.3 542.8,405.7 547.5,416.2 553.3,422.1 558,429.1 562.7,437.3 567.4,443.2 570.9,450.2 575.6,458.4 581.1,471" fill="none" stroke="#800080" stroke-width="2.8" stroke-linejoin="round" stroke-linecap="butt"/>
<polyline points="472.6,328 474.7,336.8 476.8,340.1 480.1,343.5 483,347.7 486,352.7 488.9,360.2 491.8,361.9 495.2,363.6 497.7,366.2 502.9,373 506.7,381.2 509.7,397.8 512.7,399.8 518.5,405.9 525,411.4 528.5,419.6 531,423.3 536.9,427.9 542.8,436.2 549.8,445.5 554.5,454.9 560.4,462 567.4,464.3 574.4,467.8 581.9,470.2" fill="none" stroke="#3366a8" stroke-width="2.8" stroke-linejoin="round" stroke-linecap="butt"/>
<polyline points="787.9,506.3 790.25,502.61 792.6,498.98 794.95,495.41 797.3,491.91 799.65,488.47 802.01,485.09 804.36,481.77 806.71,478.5 809.06,475.29 811.41,472.14 813.76,469.05 816.11,466 818.46,463.01 820.81,460.07 823.16,457.18 825.51,454.33 827.86,451.54 830.22,448.79 832.57,446.08 834.92,443.42 837.27,440.81 839.62,438.23 841.97,435.69 844.32,433.2 846.67,430.74 849.02,428.32 851.37,425.93 853.72,423.58 856.07,421.26 858.43,418.98 860.78,416.72 863.13,414.5 865.48,412.3 867.83,410.13 870.18,407.99 872.53,405.88 874.88,403.78 877.23,401.72 879.58,399.67 881.93,397.64 884.28,395.63 886.64,393.64 888.99,391.67 891.34,389.72 893.69,387.78 896.04,385.85 898.39,383.93 900.74,382.03 903.09,380.14 905.44,378.25 907.79,376.37 910.14,374.5 912.49,372.64 914.85,370.78 917.2,368.92 919.55,367.07 921.9,365.21 924.25,363.36 926.6,361.5" fill="none" stroke="#000000" stroke-width="3.0" stroke-linejoin="round" stroke-linecap="butt"/>
<polyline points="769.8,490.9 772.46,487.36 775.12,483.83 777.78,480.32 780.44,476.82 783.1,473.34 785.76,469.88 788.42,466.44 791.07,463.02 793.73,459.62 796.39,456.24 799.05,452.89 801.71,449.56 804.37,446.25 807.03,442.98 809.69,439.72 812.35,436.5 815.01,433.31 817.67,430.15 820.33,427.02 822.99,423.92 825.65,420.85 828.31,417.82 830.96,414.83 833.62,411.87 836.28,408.95 838.94,406.07 841.6,403.23 844.26,400.43 846.92,397.68 849.58,394.96 852.24,392.29 854.9,389.67 857.56,387.09 860.22,384.56 862.88,382.07 865.54,379.64 868.19,377.25 870.85,374.92 873.51,372.64 876.17,370.41 878.83,368.24 881.49,366.12 884.15,364.06 886.81,362.05 889.47,360.11 892.13,358.22 894.79,356.4 897.45,354.63 900.11,352.93 902.77,351.3 905.43,349.72 908.08,348.22 910.74,346.78 913.4,345.41 916.06,344.1 918.72,342.87 921.38,341.71 924.04,340.62 926.7,339.6" fill="none" stroke="#ff0000" stroke-width="3.0" stroke-linejoin="round" stroke-linecap="butt"/>
<polyline points="760.4,498.9 763.22,494.79 766.04,490.71 768.86,486.67 771.67,482.67 774.49,478.71 777.31,474.79 780.13,470.9 782.95,467.06 785.77,463.25 788.59,459.49 791.41,455.76 794.22,452.08 797.04,448.44 799.86,444.84 802.68,441.28 805.5,437.77 808.32,434.3 811.14,430.88 813.95,427.5 816.77,424.16 819.59,420.87 822.41,417.63 825.23,414.43 828.05,411.29 830.87,408.19 833.68,405.13 836.5,402.13 839.32,399.17 842.14,396.27 844.96,393.41 847.78,390.61 850.6,387.86 853.42,385.15 856.23,382.5 859.05,379.91 861.87,377.36 864.69,374.87 867.51,372.44 870.33,370.05 873.15,367.73 875.96,365.45 878.78,363.24 881.6,361.08 884.42,358.98 887.24,356.93 890.06,354.95 892.88,353.02 895.69,351.15 898.51,349.34 901.33,347.59 904.15,345.89 906.97,344.27 909.79,342.7 912.61,341.19 915.43,339.75 918.24,338.36 921.06,337.05 923.88,335.79 926.7,334.6" fill="none" stroke="#0000ff" stroke-width="3.0" stroke-linejoin="round" stroke-linecap="butt"/>
<polyline points="755,511.6 757.91,506.39 760.82,501.27 763.73,496.24 766.64,491.3 769.55,486.45 772.46,481.68 775.37,477 778.28,472.4 781.19,467.89 784.1,463.46 787.01,459.11 789.92,454.85 792.83,450.67 795.74,446.57 798.65,442.54 801.56,438.6 804.47,434.73 807.38,430.95 810.29,427.24 813.2,423.6 816.11,420.04 819.02,416.55 821.93,413.14 824.84,409.8 827.75,406.53 830.66,403.33 833.57,400.21 836.48,397.15 839.39,394.16 842.31,391.24 845.22,388.39 848.13,385.6 851.04,382.88 853.95,380.22 856.86,377.63 859.77,375.1 862.68,372.63 865.59,370.23 868.5,367.88 871.41,365.6 874.32,363.38 877.23,361.21 880.14,359.1 883.05,357.05 885.96,355.06 888.87,353.12 891.78,351.23 894.69,349.4 897.6,347.62 900.51,345.9 903.42,344.23 906.33,342.6 909.24,341.03 912.15,339.51 915.06,338.03 917.97,336.6 920.88,335.22 923.79,333.89 926.7,332.6" fill="none" stroke="#ff00ff" stroke-width="3.0" stroke-linejoin="round" stroke-linecap="butt"/>
<polyline points="751.5,500.5 754.48,495.77 757.47,491.1 760.45,486.5 763.43,481.96 766.42,477.49 769.4,473.08 772.38,468.74 775.36,464.46 778.35,460.25 781.33,456.1 784.31,452.01 787.3,447.99 790.28,444.03 793.26,440.13 796.25,436.29 799.23,432.52 802.21,428.82 805.19,425.17 808.18,421.59 811.16,418.07 814.14,414.61 817.13,411.21 820.11,407.88 823.09,404.61 826.08,401.39 829.06,398.25 832.04,395.16 835.03,392.13 838.01,389.16 840.99,386.26 843.97,383.41 846.96,380.63 849.94,377.91 852.92,375.24 855.91,372.64 858.89,370.1 861.87,367.61 864.86,365.19 867.84,362.83 870.82,360.52 873.81,358.28 876.79,356.09 879.77,353.96 882.75,351.89 885.74,349.88 888.72,347.93 891.7,346.04 894.69,344.2 897.67,342.42 900.65,340.7 903.64,339.04 906.62,337.44 909.6,335.89 912.58,334.4 915.57,332.96 918.55,331.59 921.53,330.27 924.52,329.01 927.5,327.8" fill="none" stroke="#008000" stroke-width="3.0" stroke-linejoin="round" stroke-linecap="butt"/>
<polyline points="760.4,497.5 763.22,492.55 766.04,487.68 768.86,482.91 771.67,478.23 774.49,473.64 777.31,469.14 780.13,464.72 782.95,460.39 785.77,456.15 788.59,451.99 791.41,447.91 794.22,443.91 797.04,440 799.86,436.16 802.68,432.41 805.5,428.73 808.32,425.13 811.14,421.6 813.95,418.15 816.77,414.78 819.59,411.47 822.41,408.24 825.23,405.08 828.05,401.99 830.87,398.96 833.68,396.01 836.5,393.12 839.32,390.29 842.14,387.53 844.96,384.84 847.78,382.2 850.6,379.63 853.42,377.12 856.23,374.67 859.05,372.27 861.87,369.93 864.69,367.65 867.51,365.43 870.33,363.26 873.15,361.14 875.96,359.07 878.78,357.05 881.6,355.09 884.42,353.17 887.24,351.3 890.06,349.48 892.88,347.71 895.69,345.98 898.51,344.29 901.33,342.64 904.15,341.04 906.97,339.48 909.79,337.96 912.61,336.47 915.43,335.03 918.24,333.62 921.06,332.24 923.88,330.91 926.7,329.6" fill="none" stroke="#000080" stroke-width="3.0" stroke-linejoin="round" stroke-linecap="butt"/>
<polyline points="758.4,496.9 761.25,492.22 764.11,487.61 766.96,483.08 769.81,478.62 772.66,474.23 775.52,469.91 778.37,465.67 781.22,461.5 784.07,457.39 786.93,453.36 789.78,449.4 792.63,445.5 795.48,441.67 798.34,437.91 801.19,434.22 804.04,430.59 806.89,427.03 809.75,423.54 812.6,420.1 815.45,416.74 818.3,413.43 821.16,410.19 824.01,407.02 826.86,403.9 829.71,400.85 832.57,397.85 835.42,394.92 838.27,392.05 841.12,389.23 843.98,386.48 846.83,383.78 849.68,381.14 852.53,378.56 855.39,376.03 858.24,373.56 861.09,371.15 863.94,368.79 866.8,366.48 869.65,364.23 872.5,362.03 875.35,359.89 878.21,357.79 881.06,355.75 883.91,353.75 886.76,351.81 889.62,349.92 892.47,348.08 895.32,346.28 898.17,344.54 901.03,342.84 903.88,341.19 906.73,339.58 909.58,338.02 912.44,336.51 915.29,335.04 918.14,333.61 920.99,332.23 923.85,330.9 926.7,329.6" fill="none" stroke="#800080" stroke-width="3.0" stroke-linejoin="round" stroke-linecap="butt"/>
<polyline points="751,501.6 753.98,496.73 756.96,491.93 759.93,487.2 762.91,482.55 765.89,477.97 768.87,473.47 771.85,469.04 774.82,464.68 777.8,460.39 780.78,456.17 783.76,452.02 786.74,447.94 789.71,443.93 792.69,439.99 795.67,436.12 798.65,432.32 801.63,428.58 804.6,424.91 807.58,421.31 810.56,417.78 813.54,414.31 816.52,410.9 819.49,407.56 822.47,404.29 825.45,401.08 828.43,397.93 831.41,394.84 834.38,391.82 837.36,388.86 840.34,385.96 843.32,383.12 846.29,380.35 849.27,377.63 852.25,374.97 855.23,372.37 858.21,369.84 861.18,367.35 864.16,364.93 867.14,362.57 870.12,360.26 873.1,358.01 876.07,355.81 879.05,353.67 882.03,351.58 885.01,349.55 887.99,347.58 890.96,345.65 893.94,343.78 896.92,341.97 899.9,340.2 902.88,338.49 905.85,336.83 908.83,335.22 911.81,333.66 914.79,332.15 917.77,330.69 920.74,329.28 923.72,327.91 926.7,326.6" fill="none" stroke="#3366a8" stroke-width="3.4" stroke-linejoin="round" stroke-linecap="butt"/>
<rect x="120.7" y="323.4" width="63.8" height="112.6" fill="#fff" stroke="#c8c8c8" stroke-width="1"/>
<line x1="121.3" y1="330.5" x2="139.7" y2="330.5" stroke="#000000" stroke-width="3"/>
<text x="143.3" y="334.46" font-size="11" fill="#000" color="#000"><tspan font-style="italic">d</tspan>=5nm</text>
<line x1="121.3" y1="344.68" x2="139.7" y2="344.68" stroke="#ff0000" stroke-width="3"/>
<text x="143.3" y="348.64" font-size="11" fill="#000" color="#000"><tspan font-style="italic">d</tspan>=10nm</text>
<line x1="121.3" y1="358.86" x2="139.7" y2="358.86" stroke="#0000ff" stroke-width="3"/>
<text x="143.3" y="362.82" font-size="11" fill="#000" color="#000"><tspan font-style="italic">d</tspan>=15nm</text>
<line x1="121.3" y1="373.04" x2="139.7" y2="373.04" stroke="#ff00ff" stroke-width="3"/>
<text x="143.3" y="377" font-size="11" fill="#000" color="#000"><tspan font-style="italic">d</tspan>=20nm</text>
<line x1="121.3" y1="387.22" x2="139.7" y2="387.22" stroke="#008000" stroke-width="3"/>
<text x="143.3" y="391.18" font-size="11" fill="#000" color="#000"><tspan font-style="italic">d</tspan>=25nm</text>
<line x1="121.3" y1="401.4" x2="139.7" y2="401.4" stroke="#000080" stroke-width="3"/>
<text x="143.3" y="405.36" font-size="11" fill="#000" color="#000"><tspan font-style="italic">d</tspan>=30nm</text>
<line x1="121.3" y1="415.58" x2="139.7" y2="415.58" stroke="#800080" stroke-width="3"/>
<text x="143.3" y="419.54" font-size="11" fill="#000" color="#000"><tspan font-style="italic">d</tspan>=50nm</text>
<line x1="121.3" y1="429.76" x2="139.7" y2="429.76" stroke="#3366a8" stroke-width="3"/>
<text x="143.3" y="433.72" font-size="11" fill="#000" color="#000"><tspan font-style="italic">d</tspan>=80nm</text>
<rect x="562.5" y="313" width="57.8" height="102.1" fill="#fff" stroke="#c8c8c8" stroke-width="1"/>
<line x1="563" y1="319.5" x2="580.1" y2="319.5" stroke="#000000" stroke-width="3"/>
<text x="583.1" y="323.1" font-size="10" fill="#000" color="#000"><tspan font-style="italic">d</tspan>=5nm</text>
<line x1="563" y1="332.35" x2="580.1" y2="332.35" stroke="#ff0000" stroke-width="3"/>
<text x="583.1" y="335.95" font-size="10" fill="#000" color="#000"><tspan font-style="italic">d</tspan>=10nm</text>
<line x1="563" y1="345.2" x2="580.1" y2="345.2" stroke="#0000ff" stroke-width="3"/>
<text x="583.1" y="348.8" font-size="10" fill="#000" color="#000"><tspan font-style="italic">d</tspan>=15nm</text>
<line x1="563" y1="358.05" x2="580.1" y2="358.05" stroke="#ff00ff" stroke-width="3"/>
<text x="583.1" y="361.65" font-size="10" fill="#000" color="#000"><tspan font-style="italic">d</tspan>=20nm</text>
<line x1="563" y1="370.9" x2="580.1" y2="370.9" stroke="#008000" stroke-width="3"/>
<text x="583.1" y="374.5" font-size="10" fill="#000" color="#000"><tspan font-style="italic">d</tspan>=25nm</text>
<line x1="563" y1="383.75" x2="580.1" y2="383.75" stroke="#000080" stroke-width="3"/>
<text x="583.1" y="387.35" font-size="10" fill="#000" color="#000"><tspan font-style="italic">d</tspan>=30nm</text>
<line x1="563" y1="396.6" x2="580.1" y2="396.6" stroke="#800080" stroke-width="3"/>
<text x="583.1" y="400.2" font-size="10" fill="#000" color="#000"><tspan font-style="italic">d</tspan>=50nm</text>
<line x1="563" y1="409.45" x2="580.1" y2="409.45" stroke="#3366a8" stroke-width="3"/>
<text x="583.1" y="413.05" font-size="10" fill="#000" color="#000"><tspan font-style="italic">d</tspan>=80nm</text>
<rect x="747.7" y="313.7" width="58.5" height="102.5" fill="#fff" stroke="#c8c8c8" stroke-width="1"/>
<line x1="748.3" y1="319.7" x2="765.4" y2="319.7" stroke="#000000" stroke-width="3"/>
<text x="768.4" y="323.3" font-size="10" fill="#000" color="#000"><tspan font-style="italic">d</tspan>=5nm</text>
<line x1="748.3" y1="332.6" x2="765.4" y2="332.6" stroke="#ff0000" stroke-width="3"/>
<text x="768.4" y="336.2" font-size="10" fill="#000" color="#000"><tspan font-style="italic">d</tspan>=10nm</text>
<line x1="748.3" y1="345.5" x2="765.4" y2="345.5" stroke="#0000ff" stroke-width="3"/>
<text x="768.4" y="349.1" font-size="10" fill="#000" color="#000"><tspan font-style="italic">d</tspan>=15nm</text>
<line x1="748.3" y1="358.4" x2="765.4" y2="358.4" stroke="#ff00ff" stroke-width="3"/>
<text x="768.4" y="362" font-size="10" fill="#000" color="#000"><tspan font-style="italic">d</tspan>=20nm</text>
<line x1="748.3" y1="371.3" x2="765.4" y2="371.3" stroke="#008000" stroke-width="3"/>
<text x="768.4" y="374.9" font-size="10" fill="#000" color="#000"><tspan font-style="italic">d</tspan>=25nm</text>
<line x1="748.3" y1="384.2" x2="765.4" y2="384.2" stroke="#000080" stroke-width="3"/>
<text x="768.4" y="387.8" font-size="10" fill="#000" color="#000"><tspan font-style="italic">d</tspan>=30nm</text>
<line x1="748.3" y1="397.1" x2="765.4" y2="397.1" stroke="#800080" stroke-width="3"/>
<text x="768.4" y="400.7" font-size="10" fill="#000" color="#000"><tspan font-style="italic">d</tspan>=50nm</text>
<line x1="748.3" y1="410" x2="765.4" y2="410" stroke="#3366a8" stroke-width="3"/>
<text x="768.4" y="413.6" font-size="10" fill="#000" color="#000"><tspan font-style="italic">d</tspan>=80nm</text></svg></body></html>
